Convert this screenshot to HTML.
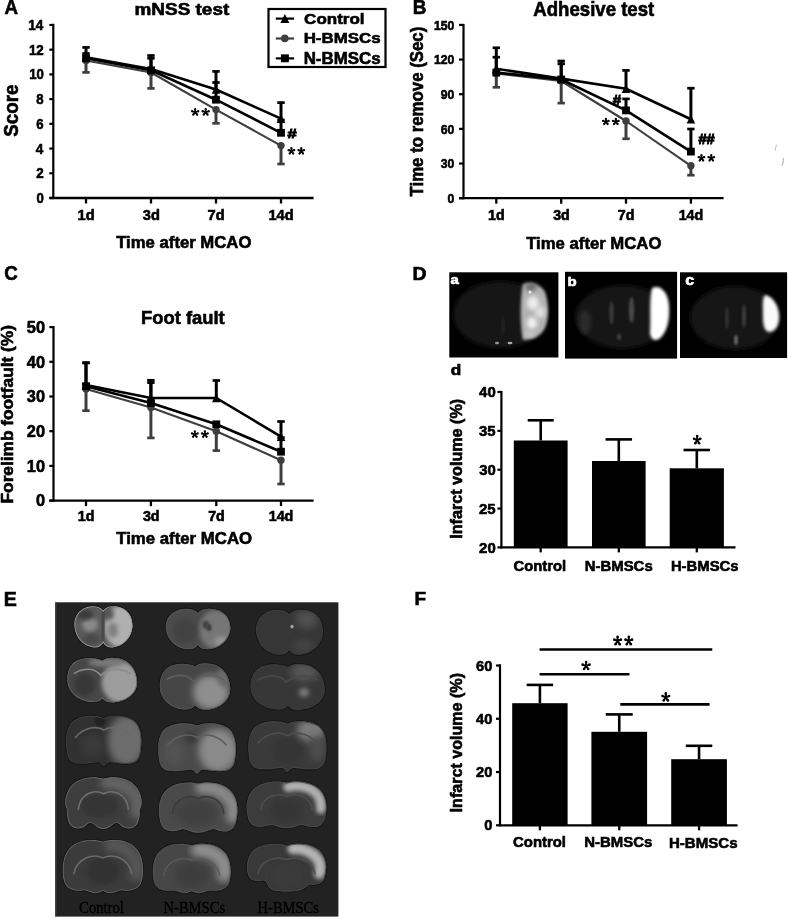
<!DOCTYPE html><html><head><meta charset="utf-8"><style>html,body{margin:0;padding:0;background:#fff;overflow:hidden}svg{display:block;filter:blur(0.3px)}</style></head><body>
<svg width="788" height="919" viewBox="0 0 788 919">
<defs>
<filter id="b06" x="-10%" y="-10%" width="120%" height="120%"><feGaussianBlur stdDeviation="0.6"/></filter>
<filter id="b15" x="-30%" y="-30%" width="160%" height="160%"><feGaussianBlur stdDeviation="1.6"/></filter>
<filter id="b1" x="-20%" y="-20%" width="140%" height="140%"><feGaussianBlur stdDeviation="1.2"/></filter>
<filter id="b2" x="-30%" y="-30%" width="160%" height="160%"><feGaussianBlur stdDeviation="2.2"/></filter>
<filter id="b3" x="-40%" y="-40%" width="180%" height="180%"><feGaussianBlur stdDeviation="3.5"/></filter>
<filter id="b5" x="-50%" y="-50%" width="200%" height="200%"><feGaussianBlur stdDeviation="5"/></filter>
</defs>
<rect width="788" height="919" fill="#fff"/>
<text x="4.48" y="13.70" font-size="20.22" fill="#000" font-weight="bold" font-family="&quot;Liberation Sans&quot;, sans-serif" textLength="13.53" lengthAdjust="spacingAndGlyphs" stroke="#000" stroke-width="0.6">A</text>
<text x="412.82" y="13.70" font-size="20.22" fill="#000" font-weight="bold" font-family="&quot;Liberation Sans&quot;, sans-serif" textLength="13.73" lengthAdjust="spacingAndGlyphs" stroke="#000" stroke-width="0.6">B</text>
<text x="4.25" y="280.10" font-size="20.21" fill="#000" font-weight="bold" font-family="&quot;Liberation Sans&quot;, sans-serif" textLength="13.56" lengthAdjust="spacingAndGlyphs" stroke="#000" stroke-width="0.6">C</text>
<text x="412.49" y="279.80" font-size="17.75" fill="#000" font-weight="bold" font-family="&quot;Liberation Sans&quot;, sans-serif" textLength="14.03" lengthAdjust="spacingAndGlyphs" stroke="#000" stroke-width="0.6">D</text>
<text x="3.67" y="605.90" font-size="19.93" fill="#000" font-weight="bold" font-family="&quot;Liberation Sans&quot;, sans-serif" textLength="13.10" lengthAdjust="spacingAndGlyphs" stroke="#000" stroke-width="0.6">E</text>
<text x="414.52" y="605.40" font-size="18.62" fill="#000" font-weight="bold" font-family="&quot;Liberation Sans&quot;, sans-serif" textLength="11.56" lengthAdjust="spacingAndGlyphs" stroke="#000" stroke-width="0.6">F</text>
<line x1="53.30" y1="23.80" x2="53.30" y2="199.10" stroke="#000" stroke-width="2.2" />
<line x1="49.30" y1="198.00" x2="313.60" y2="198.00" stroke="#000" stroke-width="2.3" />
<line x1="49.30" y1="198.00" x2="53.30" y2="198.00" stroke="#000" stroke-width="2.2" />
<text x="36.43" y="202.86" font-size="14.13" fill="#000" font-weight="bold" font-family="&quot;Liberation Sans&quot;, sans-serif" textLength="7.31" lengthAdjust="spacingAndGlyphs" stroke="#000" stroke-width="0.6">0</text>
<line x1="49.30" y1="173.28" x2="53.30" y2="173.28" stroke="#000" stroke-width="2.2" />
<text x="36.30" y="178.28" font-size="14.34" fill="#000" font-weight="bold" font-family="&quot;Liberation Sans&quot;, sans-serif" textLength="7.42" lengthAdjust="spacingAndGlyphs" stroke="#000" stroke-width="0.6">2</text>
<line x1="49.30" y1="148.56" x2="53.30" y2="148.56" stroke="#000" stroke-width="2.2" />
<text x="35.76" y="153.56" font-size="14.55" fill="#000" font-weight="bold" font-family="&quot;Liberation Sans&quot;, sans-serif" textLength="7.52" lengthAdjust="spacingAndGlyphs" stroke="#000" stroke-width="0.6">4</text>
<line x1="49.30" y1="123.84" x2="53.30" y2="123.84" stroke="#000" stroke-width="2.2" />
<text x="36.36" y="128.70" font-size="14.13" fill="#000" font-weight="bold" font-family="&quot;Liberation Sans&quot;, sans-serif" textLength="7.31" lengthAdjust="spacingAndGlyphs" stroke="#000" stroke-width="0.6">6</text>
<line x1="49.30" y1="99.12" x2="53.30" y2="99.12" stroke="#000" stroke-width="2.2" />
<text x="36.30" y="103.98" font-size="14.13" fill="#000" font-weight="bold" font-family="&quot;Liberation Sans&quot;, sans-serif" textLength="7.31" lengthAdjust="spacingAndGlyphs" stroke="#000" stroke-width="0.6">8</text>
<line x1="49.30" y1="74.40" x2="53.30" y2="74.40" stroke="#000" stroke-width="2.2" />
<text x="29.13" y="79.26" font-size="14.13" fill="#000" font-weight="bold" font-family="&quot;Liberation Sans&quot;, sans-serif" textLength="14.62" lengthAdjust="spacingAndGlyphs" stroke="#000" stroke-width="0.6">10</text>
<line x1="49.30" y1="49.68" x2="53.30" y2="49.68" stroke="#000" stroke-width="2.2" />
<text x="28.90" y="54.68" font-size="14.34" fill="#000" font-weight="bold" font-family="&quot;Liberation Sans&quot;, sans-serif" textLength="14.83" lengthAdjust="spacingAndGlyphs" stroke="#000" stroke-width="0.6">12</text>
<line x1="49.30" y1="24.96" x2="53.30" y2="24.96" stroke="#000" stroke-width="2.2" />
<text x="28.25" y="29.96" font-size="14.55" fill="#000" font-weight="bold" font-family="&quot;Liberation Sans&quot;, sans-serif" textLength="15.05" lengthAdjust="spacingAndGlyphs" stroke="#000" stroke-width="0.6">14</text>
<line x1="86.00" y1="198.00" x2="86.00" y2="203.50" stroke="#000" stroke-width="2.3" />
<text x="77.47" y="219.55" font-size="14.97" fill="#000" font-weight="bold" font-family="&quot;Liberation Sans&quot;, sans-serif" textLength="17.12" lengthAdjust="spacingAndGlyphs" stroke="#000" stroke-width="0.6">1d</text>
<line x1="151.00" y1="198.00" x2="151.00" y2="203.50" stroke="#000" stroke-width="2.3" />
<text x="142.80" y="219.51" font-size="14.92" fill="#000" font-weight="bold" font-family="&quot;Liberation Sans&quot;, sans-serif" textLength="17.06" lengthAdjust="spacingAndGlyphs" stroke="#000" stroke-width="0.6">3d</text>
<line x1="216.00" y1="198.00" x2="216.00" y2="203.50" stroke="#000" stroke-width="2.3" />
<text x="207.62" y="219.55" font-size="14.97" fill="#000" font-weight="bold" font-family="&quot;Liberation Sans&quot;, sans-serif" textLength="17.12" lengthAdjust="spacingAndGlyphs" stroke="#000" stroke-width="0.6">7d</text>
<line x1="281.00" y1="198.00" x2="281.00" y2="203.50" stroke="#000" stroke-width="2.3" />
<text x="268.39" y="219.55" font-size="14.97" fill="#000" font-weight="bold" font-family="&quot;Liberation Sans&quot;, sans-serif" textLength="25.27" lengthAdjust="spacingAndGlyphs" stroke="#000" stroke-width="0.6">14d</text>
<text x="116.23" y="247.74" font-size="16.46" fill="#000" font-weight="bold" font-family="&quot;Liberation Sans&quot;, sans-serif" textLength="135.17" lengthAdjust="spacingAndGlyphs" stroke="#000" stroke-width="0.6">Time after MCAO</text>
<text transform="translate(18.11,136.66) rotate(-90)" x="0" y="0" font-size="19.36" font-weight="bold" font-family="&quot;Liberation Sans&quot;, sans-serif" textLength="52.11" lengthAdjust="spacingAndGlyphs" stroke="#000" stroke-width="0.6">Score</text>
<text x="134.47" y="15.43" font-size="16.68" fill="#000" font-weight="bold" font-family="&quot;Liberation Sans&quot;, sans-serif" textLength="94.80" lengthAdjust="spacingAndGlyphs" stroke="#000" stroke-width="0.6">mNSS test</text>
<polyline points="86.00,60.50 151.00,72.50 216.00,109.60 281.00,145.60" fill="none" stroke="#3e3e3e" stroke-width="2.1" stroke-linejoin="round"/>
<line x1="86.00" y1="60.50" x2="86.00" y2="72.40" stroke="#3e3e3e" stroke-width="3" />
<line x1="82.30" y1="72.40" x2="89.70" y2="72.40" stroke="#3e3e3e" stroke-width="2.7" />
<line x1="151.00" y1="72.50" x2="151.00" y2="88.40" stroke="#3e3e3e" stroke-width="3" />
<line x1="147.30" y1="88.40" x2="154.70" y2="88.40" stroke="#3e3e3e" stroke-width="2.7" />
<line x1="216.00" y1="109.60" x2="216.00" y2="123.30" stroke="#3e3e3e" stroke-width="3" />
<line x1="212.30" y1="123.30" x2="219.70" y2="123.30" stroke="#3e3e3e" stroke-width="2.7" />
<line x1="281.00" y1="145.60" x2="281.00" y2="164.00" stroke="#3e3e3e" stroke-width="3" />
<line x1="277.30" y1="164.00" x2="284.70" y2="164.00" stroke="#3e3e3e" stroke-width="2.7" />
<circle cx="86.00" cy="60.50" r="3.7" fill="#3e3e3e"/>
<circle cx="151.00" cy="72.50" r="3.7" fill="#3e3e3e"/>
<circle cx="216.00" cy="109.60" r="3.7" fill="#3e3e3e"/>
<circle cx="281.00" cy="145.60" r="3.7" fill="#3e3e3e"/>
<polyline points="86.00,58.30 151.00,70.30 216.00,99.70 281.00,132.80" fill="none" stroke="#000" stroke-width="2.6" stroke-linejoin="round"/>
<line x1="86.00" y1="58.30" x2="86.00" y2="53.50" stroke="#000" stroke-width="3" />
<line x1="82.30" y1="53.50" x2="89.70" y2="53.50" stroke="#000" stroke-width="2.7" />
<line x1="151.00" y1="70.30" x2="151.00" y2="55.50" stroke="#000" stroke-width="3" />
<line x1="147.30" y1="55.50" x2="154.70" y2="55.50" stroke="#000" stroke-width="2.7" />
<line x1="216.00" y1="99.70" x2="216.00" y2="82.50" stroke="#000" stroke-width="3" />
<line x1="212.30" y1="82.50" x2="219.70" y2="82.50" stroke="#000" stroke-width="2.7" />
<line x1="281.00" y1="132.80" x2="281.00" y2="120.00" stroke="#000" stroke-width="3" />
<line x1="277.30" y1="120.00" x2="284.70" y2="120.00" stroke="#000" stroke-width="2.7" />
<rect x="82.10" y="54.40" width="7.80" height="7.80" fill="#000" />
<rect x="147.10" y="66.40" width="7.80" height="7.80" fill="#000" />
<rect x="212.10" y="95.80" width="7.80" height="7.80" fill="#000" />
<rect x="277.10" y="128.90" width="7.80" height="7.80" fill="#000" />
<polyline points="86.00,57.30 151.00,69.00 216.00,89.50 281.00,118.60" fill="none" stroke="#000" stroke-width="2.6" stroke-linejoin="round"/>
<line x1="86.00" y1="57.30" x2="86.00" y2="47.40" stroke="#000" stroke-width="3" />
<line x1="82.30" y1="47.40" x2="89.70" y2="47.40" stroke="#000" stroke-width="2.7" />
<line x1="151.00" y1="69.00" x2="151.00" y2="58.30" stroke="#000" stroke-width="3" />
<line x1="147.30" y1="58.30" x2="154.70" y2="58.30" stroke="#000" stroke-width="2.7" />
<line x1="216.00" y1="89.50" x2="216.00" y2="71.40" stroke="#000" stroke-width="3" />
<line x1="212.30" y1="71.40" x2="219.70" y2="71.40" stroke="#000" stroke-width="2.7" />
<line x1="281.00" y1="118.60" x2="281.00" y2="102.60" stroke="#000" stroke-width="3" />
<line x1="277.30" y1="102.60" x2="284.70" y2="102.60" stroke="#000" stroke-width="2.7" />
<polygon points="81.70,61.60 90.30,61.60 86.00,53.00" fill="#000"/>
<polygon points="146.70,73.30 155.30,73.30 151.00,64.70" fill="#000"/>
<polygon points="211.70,93.80 220.30,93.80 216.00,85.20" fill="#000"/>
<polygon points="276.70,122.90 285.30,122.90 281.00,114.30" fill="#000"/>
<g fill="#000"><path d="M195.15,112.19L195.15,109.15M195.15,112.19L198.25,111.25M195.15,112.19L197.07,114.65M195.15,112.19L193.23,114.65M195.15,112.19L192.05,111.25" stroke="#000" stroke-width="1.72" fill="none"/><circle cx="195.15" cy="109.15" r="1.15"/><circle cx="198.25" cy="111.25" r="1.15"/><circle cx="197.07" cy="114.65" r="1.15"/><circle cx="193.23" cy="114.65" r="1.15"/><circle cx="192.05" cy="111.25" r="1.15"/></g>
<g fill="#000"><path d="M205.65,112.19L205.65,109.15M205.65,112.19L208.75,111.25M205.65,112.19L207.57,114.65M205.65,112.19L203.73,114.65M205.65,112.19L202.55,111.25" stroke="#000" stroke-width="1.72" fill="none"/><circle cx="205.65" cy="109.15" r="1.15"/><circle cx="208.75" cy="111.25" r="1.15"/><circle cx="207.57" cy="114.65" r="1.15"/><circle cx="203.73" cy="114.65" r="1.15"/><circle cx="202.55" cy="111.25" r="1.15"/></g>
<text x="287.51" y="138.20" font-size="13.09" fill="#000" font-weight="bold" font-family="&quot;Liberation Sans&quot;, sans-serif" textLength="9.15" lengthAdjust="spacingAndGlyphs" stroke="#000" stroke-width="0.9">#</text>
<g fill="#000"><path d="M291.43,151.09L291.43,148.05M291.43,151.09L294.20,150.15M291.43,151.09L293.14,153.55M291.43,151.09L289.71,153.55M291.43,151.09L288.65,150.15" stroke="#000" stroke-width="1.72" fill="none"/><circle cx="291.43" cy="148.05" r="1.15"/><circle cx="294.20" cy="150.15" r="1.15"/><circle cx="293.14" cy="153.55" r="1.15"/><circle cx="289.71" cy="153.55" r="1.15"/><circle cx="288.65" cy="150.15" r="1.15"/></g>
<g fill="#000"><path d="M301.28,151.09L301.28,148.05M301.28,151.09L304.05,150.15M301.28,151.09L302.99,153.55M301.28,151.09L299.56,153.55M301.28,151.09L298.50,150.15" stroke="#000" stroke-width="1.72" fill="none"/><circle cx="301.28" cy="148.05" r="1.15"/><circle cx="304.05" cy="150.15" r="1.15"/><circle cx="302.99" cy="153.55" r="1.15"/><circle cx="299.56" cy="153.55" r="1.15"/><circle cx="298.50" cy="150.15" r="1.15"/></g>
<rect x="268.5" y="9" width="117" height="58" fill="#fff" stroke="#000" stroke-width="2.2"/>
<line x1="275.80" y1="18.60" x2="294.10" y2="18.60" stroke="#000" stroke-width="2.2" />
<polygon points="280.40,23.10 289.40,23.10 284.90,14.10" fill="#000"/>
<line x1="275.80" y1="38.50" x2="294.10" y2="38.50" stroke="#3e3e3e" stroke-width="2.2" />
<circle cx="284.80" cy="38.40" r="3.8" fill="#3e3e3e"/>
<line x1="275.80" y1="58.40" x2="294.10" y2="58.40" stroke="#000" stroke-width="2.2" />
<rect x="280.95" y="54.35" width="7.90" height="7.90" fill="#000" />
<text x="304.12" y="23.84" font-size="15.51" fill="#000" font-weight="bold" font-family="&quot;Liberation Sans&quot;, sans-serif" textLength="60.47" lengthAdjust="spacingAndGlyphs" stroke="#000" stroke-width="0.6">Control</text>
<text x="303.66" y="43.44" font-size="15.55" fill="#000" font-weight="bold" font-family="&quot;Liberation Sans&quot;, sans-serif" textLength="77.03" lengthAdjust="spacingAndGlyphs" stroke="#000" stroke-width="0.6">H-BMSCs</text>
<text x="303.66" y="63.54" font-size="15.83" fill="#000" font-weight="bold" font-family="&quot;Liberation Sans&quot;, sans-serif" textLength="77.03" lengthAdjust="spacingAndGlyphs" stroke="#000" stroke-width="0.6">N-BMSCs</text>
<line x1="463.50" y1="23.90" x2="463.50" y2="199.30" stroke="#000" stroke-width="2.2" />
<line x1="459.00" y1="198.20" x2="723.60" y2="198.20" stroke="#000" stroke-width="2.3" />
<line x1="459.00" y1="198.20" x2="463.50" y2="198.20" stroke="#000" stroke-width="2.2" />
<text x="447.51" y="202.86" font-size="13.57" fill="#000" font-weight="bold" font-family="&quot;Liberation Sans&quot;, sans-serif" textLength="6.79" lengthAdjust="spacingAndGlyphs" stroke="#000" stroke-width="0.6">0</text>
<line x1="459.00" y1="163.54" x2="463.50" y2="163.54" stroke="#000" stroke-width="2.2" />
<text x="440.78" y="168.17" font-size="13.52" fill="#000" font-weight="bold" font-family="&quot;Liberation Sans&quot;, sans-serif" textLength="13.54" lengthAdjust="spacingAndGlyphs" stroke="#000" stroke-width="0.6">30</text>
<line x1="459.00" y1="128.88" x2="463.50" y2="128.88" stroke="#000" stroke-width="2.2" />
<text x="440.73" y="133.55" font-size="13.57" fill="#000" font-weight="bold" font-family="&quot;Liberation Sans&quot;, sans-serif" textLength="13.58" lengthAdjust="spacingAndGlyphs" stroke="#000" stroke-width="0.6">60</text>
<line x1="459.00" y1="94.22" x2="463.50" y2="94.22" stroke="#000" stroke-width="2.2" />
<text x="440.73" y="98.89" font-size="13.57" fill="#000" font-weight="bold" font-family="&quot;Liberation Sans&quot;, sans-serif" textLength="13.58" lengthAdjust="spacingAndGlyphs" stroke="#000" stroke-width="0.6">90</text>
<line x1="459.00" y1="59.56" x2="463.50" y2="59.56" stroke="#000" stroke-width="2.2" />
<text x="433.92" y="64.23" font-size="13.57" fill="#000" font-weight="bold" font-family="&quot;Liberation Sans&quot;, sans-serif" textLength="20.38" lengthAdjust="spacingAndGlyphs" stroke="#000" stroke-width="0.6">120</text>
<line x1="459.00" y1="24.91" x2="463.50" y2="24.91" stroke="#000" stroke-width="2.2" />
<text x="433.92" y="29.57" font-size="13.57" fill="#000" font-weight="bold" font-family="&quot;Liberation Sans&quot;, sans-serif" textLength="20.38" lengthAdjust="spacingAndGlyphs" stroke="#000" stroke-width="0.6">150</text>
<line x1="496.30" y1="198.20" x2="496.30" y2="203.70" stroke="#000" stroke-width="2.3" />
<text x="488.01" y="219.75" font-size="14.56" fill="#000" font-weight="bold" font-family="&quot;Liberation Sans&quot;, sans-serif" textLength="16.65" lengthAdjust="spacingAndGlyphs" stroke="#000" stroke-width="0.6">1d</text>
<line x1="561.20" y1="198.20" x2="561.20" y2="203.70" stroke="#000" stroke-width="2.3" />
<text x="553.22" y="219.72" font-size="14.51" fill="#000" font-weight="bold" font-family="&quot;Liberation Sans&quot;, sans-serif" textLength="16.59" lengthAdjust="spacingAndGlyphs" stroke="#000" stroke-width="0.6">3d</text>
<line x1="626.00" y1="198.20" x2="626.00" y2="203.70" stroke="#000" stroke-width="2.3" />
<text x="617.85" y="219.75" font-size="14.56" fill="#000" font-weight="bold" font-family="&quot;Liberation Sans&quot;, sans-serif" textLength="16.65" lengthAdjust="spacingAndGlyphs" stroke="#000" stroke-width="0.6">7d</text>
<line x1="690.90" y1="198.20" x2="690.90" y2="203.70" stroke="#000" stroke-width="2.3" />
<text x="678.63" y="219.75" font-size="14.56" fill="#000" font-weight="bold" font-family="&quot;Liberation Sans&quot;, sans-serif" textLength="24.58" lengthAdjust="spacingAndGlyphs" stroke="#000" stroke-width="0.6">14d</text>
<text x="526.23" y="249.13" font-size="16.87" fill="#000" font-weight="bold" font-family="&quot;Liberation Sans&quot;, sans-serif" textLength="135.17" lengthAdjust="spacingAndGlyphs" stroke="#000" stroke-width="0.6">Time after MCAO</text>
<text transform="translate(422.97,196.47) rotate(-90)" x="0" y="0" font-size="17.48" font-weight="bold" font-family="&quot;Liberation Sans&quot;, sans-serif" textLength="169.73" lengthAdjust="spacingAndGlyphs" stroke="#000" stroke-width="0.6">Time to remove (Sec)</text>
<text x="533.34" y="16.41" font-size="19.32" fill="#000" font-weight="bold" font-family="&quot;Liberation Sans&quot;, sans-serif" textLength="120.90" lengthAdjust="spacingAndGlyphs" stroke="#000" stroke-width="0.6">Adhesive test</text>
<polyline points="496.30,73.50 561.20,81.00 626.00,121.00 690.90,165.80" fill="none" stroke="#3e3e3e" stroke-width="2.1" stroke-linejoin="round"/>
<line x1="496.30" y1="73.50" x2="496.30" y2="87.30" stroke="#3e3e3e" stroke-width="3" />
<line x1="492.60" y1="87.30" x2="500.00" y2="87.30" stroke="#3e3e3e" stroke-width="2.7" />
<line x1="561.20" y1="81.00" x2="561.20" y2="103.10" stroke="#3e3e3e" stroke-width="3" />
<line x1="557.50" y1="103.10" x2="564.90" y2="103.10" stroke="#3e3e3e" stroke-width="2.7" />
<line x1="626.00" y1="121.00" x2="626.00" y2="138.80" stroke="#3e3e3e" stroke-width="3" />
<line x1="622.30" y1="138.80" x2="629.70" y2="138.80" stroke="#3e3e3e" stroke-width="2.7" />
<line x1="690.90" y1="165.80" x2="690.90" y2="175.20" stroke="#3e3e3e" stroke-width="3" />
<line x1="687.20" y1="175.20" x2="694.60" y2="175.20" stroke="#3e3e3e" stroke-width="2.7" />
<circle cx="496.30" cy="73.50" r="3.7" fill="#3e3e3e"/>
<circle cx="561.20" cy="81.00" r="3.7" fill="#3e3e3e"/>
<circle cx="626.00" cy="121.00" r="3.7" fill="#3e3e3e"/>
<circle cx="690.90" cy="165.80" r="3.7" fill="#3e3e3e"/>
<polyline points="496.30,72.50 561.20,79.50 626.00,110.40 690.90,151.60" fill="none" stroke="#000" stroke-width="2.6" stroke-linejoin="round"/>
<line x1="496.30" y1="72.50" x2="496.30" y2="57.20" stroke="#000" stroke-width="3" />
<line x1="492.60" y1="57.20" x2="500.00" y2="57.20" stroke="#000" stroke-width="2.7" />
<line x1="561.20" y1="79.50" x2="561.20" y2="63.80" stroke="#000" stroke-width="3" />
<line x1="557.50" y1="63.80" x2="564.90" y2="63.80" stroke="#000" stroke-width="2.7" />
<line x1="626.00" y1="110.40" x2="626.00" y2="98.90" stroke="#000" stroke-width="3" />
<line x1="622.30" y1="98.90" x2="629.70" y2="98.90" stroke="#000" stroke-width="2.7" />
<line x1="690.90" y1="151.60" x2="690.90" y2="129.00" stroke="#000" stroke-width="3" />
<line x1="687.20" y1="129.00" x2="694.60" y2="129.00" stroke="#000" stroke-width="2.7" />
<rect x="492.40" y="68.60" width="7.80" height="7.80" fill="#000" />
<rect x="557.30" y="75.60" width="7.80" height="7.80" fill="#000" />
<rect x="622.10" y="106.50" width="7.80" height="7.80" fill="#000" />
<rect x="687.00" y="147.70" width="7.80" height="7.80" fill="#000" />
<polyline points="496.30,68.80 561.20,78.60 626.00,88.80 690.90,119.20" fill="none" stroke="#000" stroke-width="2.6" stroke-linejoin="round"/>
<line x1="496.30" y1="68.80" x2="496.30" y2="47.80" stroke="#000" stroke-width="3" />
<line x1="492.60" y1="47.80" x2="500.00" y2="47.80" stroke="#000" stroke-width="2.7" />
<line x1="561.20" y1="78.60" x2="561.20" y2="61.00" stroke="#000" stroke-width="3" />
<line x1="557.50" y1="61.00" x2="564.90" y2="61.00" stroke="#000" stroke-width="2.7" />
<line x1="626.00" y1="88.80" x2="626.00" y2="70.40" stroke="#000" stroke-width="3" />
<line x1="622.30" y1="70.40" x2="629.70" y2="70.40" stroke="#000" stroke-width="2.7" />
<line x1="690.90" y1="119.20" x2="690.90" y2="88.20" stroke="#000" stroke-width="3" />
<line x1="687.20" y1="88.20" x2="694.60" y2="88.20" stroke="#000" stroke-width="2.7" />
<polygon points="492.00,73.10 500.60,73.10 496.30,64.50" fill="#000"/>
<polygon points="556.90,82.90 565.50,82.90 561.20,74.30" fill="#000"/>
<polygon points="621.70,93.10 630.30,93.10 626.00,84.50" fill="#000"/>
<polygon points="686.60,123.50 695.20,123.50 690.90,114.90" fill="#000"/>
<text x="612.74" y="105.00" font-size="14.41" fill="#000" font-weight="bold" font-family="&quot;Liberation Sans&quot;, sans-serif" textLength="8.41" lengthAdjust="spacingAndGlyphs" stroke="#000" stroke-width="0.9">#</text>
<g fill="#000"><path d="M605.88,121.76L605.88,119.00M605.88,121.76L608.70,120.91M605.88,121.76L607.62,124.00M605.88,121.76L604.13,124.00M605.88,121.76L603.05,120.91" stroke="#000" stroke-width="1.72" fill="none"/><circle cx="605.88" cy="119.00" r="1.15"/><circle cx="608.70" cy="120.91" r="1.15"/><circle cx="607.62" cy="124.00" r="1.15"/><circle cx="604.13" cy="124.00" r="1.15"/><circle cx="603.05" cy="120.91" r="1.15"/></g>
<g fill="#000"><path d="M615.82,121.76L615.82,119.00M615.82,121.76L618.65,120.91M615.82,121.76L617.57,124.00M615.82,121.76L614.08,124.00M615.82,121.76L613.00,120.91" stroke="#000" stroke-width="1.72" fill="none"/><circle cx="615.82" cy="119.00" r="1.15"/><circle cx="618.65" cy="120.91" r="1.15"/><circle cx="617.57" cy="124.00" r="1.15"/><circle cx="614.08" cy="124.00" r="1.15"/><circle cx="613.00" cy="120.91" r="1.15"/></g>
<text x="698.45" y="143.80" font-size="13.82" fill="#000" font-weight="bold" font-family="&quot;Liberation Sans&quot;, sans-serif" textLength="16.21" lengthAdjust="spacingAndGlyphs" stroke="#000" stroke-width="0.9">##</text>
<g fill="#000"><path d="M701.42,158.09L701.42,155.05M701.42,158.09L704.20,157.15M701.42,158.09L703.14,160.55M701.42,158.09L699.71,160.55M701.42,158.09L698.65,157.15" stroke="#000" stroke-width="1.72" fill="none"/><circle cx="701.42" cy="155.05" r="1.15"/><circle cx="704.20" cy="157.15" r="1.15"/><circle cx="703.14" cy="160.55" r="1.15"/><circle cx="699.71" cy="160.55" r="1.15"/><circle cx="698.65" cy="157.15" r="1.15"/></g>
<g fill="#000"><path d="M711.28,158.09L711.28,155.05M711.28,158.09L714.05,157.15M711.28,158.09L712.99,160.55M711.28,158.09L709.56,160.55M711.28,158.09L708.50,157.15" stroke="#000" stroke-width="1.72" fill="none"/><circle cx="711.28" cy="155.05" r="1.15"/><circle cx="714.05" cy="157.15" r="1.15"/><circle cx="712.99" cy="160.55" r="1.15"/><circle cx="709.56" cy="160.55" r="1.15"/><circle cx="708.50" cy="157.15" r="1.15"/></g>
<line x1="53.50" y1="326.00" x2="53.50" y2="501.70" stroke="#000" stroke-width="2.2" />
<line x1="49.30" y1="500.60" x2="313.60" y2="500.60" stroke="#000" stroke-width="2.3" />
<line x1="49.30" y1="500.60" x2="53.50" y2="500.60" stroke="#000" stroke-width="2.2" />
<text x="35.88" y="506.33" font-size="16.68" fill="#000" font-weight="bold" font-family="&quot;Liberation Sans&quot;, sans-serif" textLength="9.09" lengthAdjust="spacingAndGlyphs" stroke="#000" stroke-width="0.6">0</text>
<line x1="49.30" y1="465.90" x2="53.50" y2="465.90" stroke="#000" stroke-width="2.2" />
<text x="26.81" y="471.63" font-size="16.68" fill="#000" font-weight="bold" font-family="&quot;Liberation Sans&quot;, sans-serif" textLength="18.18" lengthAdjust="spacingAndGlyphs" stroke="#000" stroke-width="0.6">10</text>
<line x1="49.30" y1="431.20" x2="53.50" y2="431.20" stroke="#000" stroke-width="2.2" />
<text x="26.81" y="436.93" font-size="16.68" fill="#000" font-weight="bold" font-family="&quot;Liberation Sans&quot;, sans-serif" textLength="18.18" lengthAdjust="spacingAndGlyphs" stroke="#000" stroke-width="0.6">20</text>
<line x1="49.30" y1="396.50" x2="53.50" y2="396.50" stroke="#000" stroke-width="2.2" />
<text x="26.87" y="402.19" font-size="16.62" fill="#000" font-weight="bold" font-family="&quot;Liberation Sans&quot;, sans-serif" textLength="18.12" lengthAdjust="spacingAndGlyphs" stroke="#000" stroke-width="0.6">30</text>
<line x1="49.30" y1="361.80" x2="53.50" y2="361.80" stroke="#000" stroke-width="2.2" />
<text x="26.81" y="367.53" font-size="16.68" fill="#000" font-weight="bold" font-family="&quot;Liberation Sans&quot;, sans-serif" textLength="18.18" lengthAdjust="spacingAndGlyphs" stroke="#000" stroke-width="0.6">40</text>
<line x1="49.30" y1="327.10" x2="53.50" y2="327.10" stroke="#000" stroke-width="2.2" />
<text x="26.81" y="332.83" font-size="16.68" fill="#000" font-weight="bold" font-family="&quot;Liberation Sans&quot;, sans-serif" textLength="18.18" lengthAdjust="spacingAndGlyphs" stroke="#000" stroke-width="0.6">50</text>
<line x1="86.00" y1="500.60" x2="86.00" y2="506.10" stroke="#000" stroke-width="2.3" />
<text x="77.70" y="521.46" font-size="14.29" fill="#000" font-weight="bold" font-family="&quot;Liberation Sans&quot;, sans-serif" textLength="16.67" lengthAdjust="spacingAndGlyphs" stroke="#000" stroke-width="0.6">1d</text>
<line x1="150.90" y1="500.60" x2="150.90" y2="506.10" stroke="#000" stroke-width="2.3" />
<text x="142.91" y="521.42" font-size="14.24" fill="#000" font-weight="bold" font-family="&quot;Liberation Sans&quot;, sans-serif" textLength="16.62" lengthAdjust="spacingAndGlyphs" stroke="#000" stroke-width="0.6">3d</text>
<line x1="216.30" y1="500.60" x2="216.30" y2="506.10" stroke="#000" stroke-width="2.3" />
<text x="208.14" y="521.46" font-size="14.29" fill="#000" font-weight="bold" font-family="&quot;Liberation Sans&quot;, sans-serif" textLength="16.67" lengthAdjust="spacingAndGlyphs" stroke="#000" stroke-width="0.6">7d</text>
<line x1="281.00" y1="500.60" x2="281.00" y2="506.10" stroke="#000" stroke-width="2.3" />
<text x="268.71" y="521.46" font-size="14.29" fill="#000" font-weight="bold" font-family="&quot;Liberation Sans&quot;, sans-serif" textLength="24.62" lengthAdjust="spacingAndGlyphs" stroke="#000" stroke-width="0.6">14d</text>
<text x="116.23" y="543.83" font-size="16.87" fill="#000" font-weight="bold" font-family="&quot;Liberation Sans&quot;, sans-serif" textLength="135.87" lengthAdjust="spacingAndGlyphs" stroke="#000" stroke-width="0.6">Time after MCAO</text>
<text transform="translate(13.33,503.47) rotate(-90)" x="0" y="0" font-size="16.73" font-weight="bold" font-family="&quot;Liberation Sans&quot;, sans-serif" textLength="178.43" lengthAdjust="spacingAndGlyphs" stroke="#000" stroke-width="0.6">Forelimb footfault (%)</text>
<text x="140.96" y="323.91" font-size="18.64" fill="#000" font-weight="bold" font-family="&quot;Liberation Sans&quot;, sans-serif" textLength="83.76" lengthAdjust="spacingAndGlyphs" stroke="#000" stroke-width="0.6">Foot fault</text>
<polyline points="86.00,389.00 150.90,407.50 216.30,431.20 281.00,460.30" fill="none" stroke="#3e3e3e" stroke-width="2.1" stroke-linejoin="round"/>
<line x1="86.00" y1="389.00" x2="86.00" y2="410.70" stroke="#3e3e3e" stroke-width="3" />
<line x1="82.30" y1="410.70" x2="89.70" y2="410.70" stroke="#3e3e3e" stroke-width="2.7" />
<line x1="150.90" y1="407.50" x2="150.90" y2="437.90" stroke="#3e3e3e" stroke-width="3" />
<line x1="147.20" y1="437.90" x2="154.60" y2="437.90" stroke="#3e3e3e" stroke-width="2.7" />
<line x1="216.30" y1="431.20" x2="216.30" y2="450.60" stroke="#3e3e3e" stroke-width="3" />
<line x1="212.60" y1="450.60" x2="220.00" y2="450.60" stroke="#3e3e3e" stroke-width="2.7" />
<line x1="281.00" y1="460.30" x2="281.00" y2="484.00" stroke="#3e3e3e" stroke-width="3" />
<line x1="277.30" y1="484.00" x2="284.70" y2="484.00" stroke="#3e3e3e" stroke-width="2.7" />
<circle cx="86.00" cy="389.00" r="3.7" fill="#3e3e3e"/>
<circle cx="150.90" cy="407.50" r="3.7" fill="#3e3e3e"/>
<circle cx="216.30" cy="431.20" r="3.7" fill="#3e3e3e"/>
<circle cx="281.00" cy="460.30" r="3.7" fill="#3e3e3e"/>
<polyline points="86.00,386.20 150.90,403.00 216.30,424.30 281.00,451.70" fill="none" stroke="#000" stroke-width="2.6" stroke-linejoin="round"/>
<line x1="86.00" y1="386.20" x2="86.00" y2="363.00" stroke="#000" stroke-width="3" />
<line x1="82.30" y1="363.00" x2="89.70" y2="363.00" stroke="#000" stroke-width="2.7" />
<line x1="150.90" y1="403.00" x2="150.90" y2="382.60" stroke="#000" stroke-width="3" />
<line x1="147.20" y1="382.60" x2="154.60" y2="382.60" stroke="#000" stroke-width="2.7" />
<line x1="281.00" y1="451.70" x2="281.00" y2="437.60" stroke="#000" stroke-width="3" />
<line x1="277.30" y1="437.60" x2="284.70" y2="437.60" stroke="#000" stroke-width="2.7" />
<rect x="82.10" y="382.30" width="7.80" height="7.80" fill="#000" />
<rect x="147.00" y="399.10" width="7.80" height="7.80" fill="#000" />
<rect x="212.40" y="420.40" width="7.80" height="7.80" fill="#000" />
<rect x="277.10" y="447.80" width="7.80" height="7.80" fill="#000" />
<polyline points="86.00,385.00 150.90,398.00 216.30,398.00 281.00,436.60" fill="none" stroke="#000" stroke-width="2.6" stroke-linejoin="round"/>
<line x1="86.00" y1="385.00" x2="86.00" y2="362.60" stroke="#000" stroke-width="3" />
<line x1="82.30" y1="362.60" x2="89.70" y2="362.60" stroke="#000" stroke-width="2.7" />
<line x1="150.90" y1="398.00" x2="150.90" y2="380.30" stroke="#000" stroke-width="3" />
<line x1="147.20" y1="380.30" x2="154.60" y2="380.30" stroke="#000" stroke-width="2.7" />
<line x1="216.30" y1="398.00" x2="216.30" y2="380.50" stroke="#000" stroke-width="3" />
<line x1="212.60" y1="380.50" x2="220.00" y2="380.50" stroke="#000" stroke-width="2.7" />
<line x1="281.00" y1="436.60" x2="281.00" y2="421.50" stroke="#000" stroke-width="3" />
<line x1="277.30" y1="421.50" x2="284.70" y2="421.50" stroke="#000" stroke-width="2.7" />
<polygon points="81.70,389.30 90.30,389.30 86.00,380.70" fill="#000"/>
<polygon points="146.60,402.30 155.20,402.30 150.90,393.70" fill="#000"/>
<polygon points="212.00,402.30 220.60,402.30 216.30,393.70" fill="#000"/>
<polygon points="276.70,440.90 285.30,440.90 281.00,432.30" fill="#000"/>
<g fill="#000"><path d="M194.83,434.39L194.83,431.35M194.83,434.39L197.70,433.45M194.83,434.39L196.60,436.85M194.83,434.39L193.05,436.85M194.83,434.39L191.95,433.45" stroke="#000" stroke-width="1.72" fill="none"/><circle cx="194.83" cy="431.35" r="1.15"/><circle cx="197.70" cy="433.45" r="1.15"/><circle cx="196.60" cy="436.85" r="1.15"/><circle cx="193.05" cy="436.85" r="1.15"/><circle cx="191.95" cy="433.45" r="1.15"/></g>
<g fill="#000"><path d="M204.88,434.39L204.88,431.35M204.88,434.39L207.75,433.45M204.88,434.39L206.65,436.85M204.88,434.39L203.10,436.85M204.88,434.39L202.00,433.45" stroke="#000" stroke-width="1.72" fill="none"/><circle cx="204.88" cy="431.35" r="1.15"/><circle cx="207.75" cy="433.45" r="1.15"/><circle cx="206.65" cy="436.85" r="1.15"/><circle cx="203.10" cy="436.85" r="1.15"/><circle cx="202.00" cy="433.45" r="1.15"/></g>
<rect x="449.30" y="272.30" width="109.10" height="85.20" fill="#000" />
<ellipse cx="500.5" cy="314.5" rx="47.5" ry="33.5" fill="#141414" filter="url(#b2)"/>
<path d="M523,284 C532,281 541,285 545,292 C549,303 549,318 545,328 C541,336 533,340 523,340 C520,326 520,298 523,284 Z" fill="#b2b2b2" filter="url(#b15)"/>
<ellipse cx="531" cy="287" rx="6" ry="4" fill="#6a6a6a" filter="url(#b2)"/><ellipse cx="533" cy="303" rx="6" ry="7" fill="#ececec" filter="url(#b2)"/><ellipse cx="540" cy="312" rx="5" ry="6" fill="#e0e0e0" filter="url(#b2)"/><ellipse cx="532" cy="323" rx="5" ry="6" fill="#f2f2f2" filter="url(#b2)"/><ellipse cx="530" cy="334" rx="5" ry="3" fill="#c8c8c8" filter="url(#b2)"/><ellipse cx="530" cy="292" rx="1.5" ry="1.5" fill="#eee" filter="url(#b06)"/><ellipse cx="497" cy="343" rx="2" ry="1.3" fill="#999" filter="url(#b06)"/><ellipse cx="510" cy="343" rx="2.5" ry="1.3" fill="#aaa" filter="url(#b06)"/><ellipse cx="503" cy="325" rx="1" ry="10" fill="#2a2a2a" filter="url(#b1)"/>
<rect x="565.00" y="271.80" width="112.30" height="86.80" fill="#000" />
<ellipse cx="622.0" cy="316.8" rx="46.8" ry="31.9" fill="#141414" filter="url(#b2)"/>
<path d="M652,288 C660,284 668,292 669,305 C670,320 667,333 659,339 C654,342 650,338 650,332 C651,320 649,300 652,288 Z" fill="#fff" filter="url(#b15)"/>
<ellipse cx="611.5" cy="313" rx="2.2" ry="12" fill="#3a3a3a" filter="url(#b1)"/><ellipse cx="631.5" cy="310" rx="2.6" ry="13" fill="#484848" filter="url(#b1)"/><ellipse cx="585" cy="322" rx="6" ry="12" fill="#2a2a2a" filter="url(#b2)"/><ellipse cx="619" cy="337" rx="2" ry="3" fill="#444" filter="url(#b1)"/>
<rect x="680.00" y="272.30" width="107.10" height="85.70" fill="#000" />
<ellipse cx="734.9" cy="317.9" rx="44.9" ry="31.8" fill="#141414" filter="url(#b2)"/>
<path d="M765,295 C772,296 778,304 779,314 C780,324 776,331 770,332 C765,332 763,326 763,318 C763,308 762,298 765,295 Z" fill="#fafafa" filter="url(#b15)"/>
<ellipse cx="727" cy="318" rx="1.8" ry="11" fill="#333" filter="url(#b1)"/><ellipse cx="744" cy="316" rx="2" ry="12" fill="#3e3e3e" filter="url(#b1)"/><ellipse cx="736" cy="340" rx="2" ry="5" fill="#666" filter="url(#b1)"/>
<rect x="677.3" y="271" width="2.7" height="89" fill="#fff"/>
<text x="450.55" y="284.26" font-size="13.52" fill="#fff" font-weight="bold" font-family="&quot;Liberation Sans&quot;, sans-serif" textLength="8.36" lengthAdjust="spacingAndGlyphs" stroke="#fff" stroke-width="0.6">a</text>
<text x="567.42" y="286.17" font-size="13.47" fill="#fff" font-weight="bold" font-family="&quot;Liberation Sans&quot;, sans-serif" textLength="9.19" lengthAdjust="spacingAndGlyphs" stroke="#fff" stroke-width="0.6">b</text>
<text x="685.16" y="284.76" font-size="13.88" fill="#fff" font-weight="bold" font-family="&quot;Liberation Sans&quot;, sans-serif" textLength="8.90" lengthAdjust="spacingAndGlyphs" stroke="#fff" stroke-width="0.6">c</text>
<text x="450.71" y="375.45" font-size="14.56" fill="#000" font-weight="bold" font-family="&quot;Liberation Sans&quot;, sans-serif" textLength="10.52" lengthAdjust="spacingAndGlyphs" stroke="#000" stroke-width="0.6">d</text>
<line x1="501.40" y1="390.90" x2="501.40" y2="548.50" stroke="#000" stroke-width="2.2" />
<line x1="501.40" y1="547.40" x2="735.50" y2="547.40" stroke="#000" stroke-width="2.3" />
<line x1="497.40" y1="547.40" x2="501.40" y2="547.40" stroke="#000" stroke-width="2.2" />
<text x="479.11" y="552.70" font-size="15.41" fill="#000" font-weight="bold" font-family="&quot;Liberation Sans&quot;, sans-serif" textLength="16.62" lengthAdjust="spacingAndGlyphs" stroke="#000" stroke-width="0.6">20</text>
<line x1="497.40" y1="508.55" x2="501.40" y2="508.55" stroke="#000" stroke-width="2.2" />
<text x="478.92" y="513.85" font-size="15.41" fill="#000" font-weight="bold" font-family="&quot;Liberation Sans&quot;, sans-serif" textLength="16.62" lengthAdjust="spacingAndGlyphs" stroke="#000" stroke-width="0.6">25</text>
<line x1="497.40" y1="469.70" x2="501.40" y2="469.70" stroke="#000" stroke-width="2.2" />
<text x="479.17" y="474.96" font-size="15.35" fill="#000" font-weight="bold" font-family="&quot;Liberation Sans&quot;, sans-serif" textLength="16.56" lengthAdjust="spacingAndGlyphs" stroke="#000" stroke-width="0.6">30</text>
<line x1="497.40" y1="430.85" x2="501.40" y2="430.85" stroke="#000" stroke-width="2.2" />
<text x="478.98" y="436.11" font-size="15.35" fill="#000" font-weight="bold" font-family="&quot;Liberation Sans&quot;, sans-serif" textLength="16.56" lengthAdjust="spacingAndGlyphs" stroke="#000" stroke-width="0.6">35</text>
<line x1="497.40" y1="392.00" x2="501.40" y2="392.00" stroke="#000" stroke-width="2.2" />
<text x="479.11" y="397.30" font-size="15.41" fill="#000" font-weight="bold" font-family="&quot;Liberation Sans&quot;, sans-serif" textLength="16.62" lengthAdjust="spacingAndGlyphs" stroke="#000" stroke-width="0.6">40</text>
<line x1="540.70" y1="440.50" x2="540.70" y2="420.30" stroke="#000" stroke-width="2.6" />
<line x1="527.70" y1="420.30" x2="553.70" y2="420.30" stroke="#000" stroke-width="2.6" />
<rect x="513.80" y="440.50" width="53.80" height="106.90" fill="#000" />
<line x1="540.70" y1="547.40" x2="540.70" y2="552.40" stroke="#000" stroke-width="2.3" />
<text x="513.51" y="570.75" font-size="14.56" fill="#000" font-weight="bold" font-family="&quot;Liberation Sans&quot;, sans-serif" textLength="52.52" lengthAdjust="spacingAndGlyphs" stroke="#000" stroke-width="0.6">Control</text>
<line x1="618.80" y1="461.00" x2="618.80" y2="439.40" stroke="#000" stroke-width="2.6" />
<line x1="605.55" y1="439.40" x2="632.05" y2="439.40" stroke="#000" stroke-width="2.6" />
<rect x="592.00" y="461.00" width="53.60" height="86.40" fill="#000" />
<line x1="618.80" y1="547.40" x2="618.80" y2="552.40" stroke="#000" stroke-width="2.3" />
<text x="584.69" y="570.75" font-size="15.12" fill="#000" font-weight="bold" font-family="&quot;Liberation Sans&quot;, sans-serif" textLength="68.02" lengthAdjust="spacingAndGlyphs" stroke="#000" stroke-width="0.6">N-BMSCs</text>
<line x1="696.80" y1="468.30" x2="696.80" y2="450.00" stroke="#000" stroke-width="2.6" />
<line x1="683.55" y1="450.00" x2="710.05" y2="450.00" stroke="#000" stroke-width="2.6" />
<rect x="669.70" y="468.30" width="54.20" height="79.10" fill="#000" />
<line x1="696.80" y1="547.40" x2="696.80" y2="552.40" stroke="#000" stroke-width="2.3" />
<text x="670.90" y="570.95" font-size="15.12" fill="#000" font-weight="bold" font-family="&quot;Liberation Sans&quot;, sans-serif" textLength="67.71" lengthAdjust="spacingAndGlyphs" stroke="#000" stroke-width="0.6">H-BMSCs</text>
<text transform="translate(461.62,538.79) rotate(-90)" x="0" y="0" font-size="16.30" font-weight="bold" font-family="&quot;Liberation Sans&quot;, sans-serif" textLength="140.01" lengthAdjust="spacingAndGlyphs" stroke="#000" stroke-width="0.6">Infarct volume (%)</text>
<g fill="#000"><path d="M697.20,440.08L697.20,436.10M697.20,440.08L700.30,438.85M697.20,440.08L699.12,443.30M697.20,440.08L695.28,443.30M697.20,440.08L694.10,438.85" stroke="#000" stroke-width="1.95" fill="none"/><circle cx="697.20" cy="436.10" r="1.30"/><circle cx="700.30" cy="438.85" r="1.30"/><circle cx="699.12" cy="443.30" r="1.30"/><circle cx="695.28" cy="443.30" r="1.30"/><circle cx="694.10" cy="438.85" r="1.30"/></g>
<rect x="55.30" y="602.30" width="283.10" height="314.30" fill="#222222" />
<rect x="55.3" y="602.3" width="1.4" height="314.3" fill="#383838"/>
<clipPath id="cp0"><path d="M 103.20 610.58 C 99.62 605.92 92.47 605.50 86.51 607.19 C 76.98 610.58 73.40 619.04 74.59 627.50 C 75.78 637.65 82.94 646.11 93.66 647.38 C 98.43 647.80 101.41 646.11 103.20 642.72 C 104.99 646.11 107.97 647.80 112.74 647.38 C 123.46 646.11 131.21 637.65 132.40 627.50 C 133.00 618.19 128.83 609.73 119.89 607.19 C 112.74 605.08 106.18 606.35 103.20 610.58 Z"/></clipPath>
<path d="M 103.20 610.58 C 99.62 605.92 92.47 605.50 86.51 607.19 C 76.98 610.58 73.40 619.04 74.59 627.50 C 75.78 637.65 82.94 646.11 93.66 647.38 C 98.43 647.80 101.41 646.11 103.20 642.72 C 104.99 646.11 107.97 647.80 112.74 647.38 C 123.46 646.11 131.21 637.65 132.40 627.50 C 133.00 618.19 128.83 609.73 119.89 607.19 C 112.74 605.08 106.18 606.35 103.20 610.58 Z" fill="none" stroke="#161616" stroke-width="2" filter="url(#b06)"/>
<g clip-path="url(#cp0)">
<path d="M 103.20 610.58 C 99.62 605.92 92.47 605.50 86.51 607.19 C 76.98 610.58 73.40 619.04 74.59 627.50 C 75.78 637.65 82.94 646.11 93.66 647.38 C 98.43 647.80 101.41 646.11 103.20 642.72 C 104.99 646.11 107.97 647.80 112.74 647.38 C 123.46 646.11 131.21 637.65 132.40 627.50 C 133.00 618.19 128.83 609.73 119.89 607.19 C 112.74 605.08 106.18 606.35 103.20 610.58 Z" fill="#5a5a5a"/>
<ellipse cx="119.89" cy="626.65" rx="15.50" ry="21.15" fill="#b0b0b0" filter="url(#b2)"/>
<ellipse cx="112.74" cy="630.03" rx="5.36" ry="7.61" fill="#808080" filter="url(#b2)"/>
<ellipse cx="107.97" cy="613.96" rx="5.96" ry="5.92" fill="#555" filter="url(#b2)"/>
<ellipse cx="90.09" cy="624.53" rx="7.75" ry="7.61" fill="#8a8a8a" filter="url(#b2)"/>
<ellipse cx="85.32" cy="614.81" rx="8.34" ry="5.08" fill="#3a3a3a" filter="url(#b2)"/>
<ellipse cx="91.28" cy="639.34" rx="8.34" ry="5.92" fill="#4a4a4a" filter="url(#b2)"/>
<ellipse cx="103.20" cy="626.65" rx="1.07" ry="17.77" fill="#333333" filter="url(#b1)"/>
<path d="M 103.20 610.58 C 99.62 605.92 92.47 605.50 86.51 607.19 C 76.98 610.58 73.40 619.04 74.59 627.50 C 75.78 637.65 82.94 646.11 93.66 647.38 C 98.43 647.80 101.41 646.11 103.20 642.72 C 104.99 646.11 107.97 647.80 112.74 647.38 C 123.46 646.11 131.21 637.65 132.40 627.50 C 133.00 618.19 128.83 609.73 119.89 607.19 C 112.74 605.08 106.18 606.35 103.20 610.58 Z" fill="none" stroke="#9a9a9a" stroke-width="1.6" filter="url(#b06)"/>
</g>
<clipPath id="cp1"><path d="M 197.85 613.00 C 193.87 608.42 185.92 608.00 179.29 609.67 C 168.68 613.00 164.70 621.34 166.03 629.68 C 167.35 639.69 175.31 648.03 187.24 649.28 C 192.55 649.70 195.86 648.03 197.85 644.70 C 199.84 648.03 203.15 649.70 208.46 649.28 C 220.39 648.03 229.01 639.69 230.34 629.68 C 231.00 620.51 226.36 612.17 216.41 609.67 C 208.46 607.58 201.16 608.83 197.85 613.00 Z"/></clipPath>
<path d="M 197.85 613.00 C 193.87 608.42 185.92 608.00 179.29 609.67 C 168.68 613.00 164.70 621.34 166.03 629.68 C 167.35 639.69 175.31 648.03 187.24 649.28 C 192.55 649.70 195.86 648.03 197.85 644.70 C 199.84 648.03 203.15 649.70 208.46 649.28 C 220.39 648.03 229.01 639.69 230.34 629.68 C 231.00 620.51 226.36 612.17 216.41 609.67 C 208.46 607.58 201.16 608.83 197.85 613.00 Z" fill="none" stroke="#161616" stroke-width="2" filter="url(#b06)"/>
<g clip-path="url(#cp1)">
<path d="M 197.85 613.00 C 193.87 608.42 185.92 608.00 179.29 609.67 C 168.68 613.00 164.70 621.34 166.03 629.68 C 167.35 639.69 175.31 648.03 187.24 649.28 C 192.55 649.70 195.86 648.03 197.85 644.70 C 199.84 648.03 203.15 649.70 208.46 649.28 C 220.39 648.03 229.01 639.69 230.34 629.68 C 231.00 620.51 226.36 612.17 216.41 609.67 C 208.46 607.58 201.16 608.83 197.85 613.00 Z" fill="#4b4b4b"/>
<ellipse cx="216.41" cy="629.68" rx="17.24" ry="20.02" fill="#767676" filter="url(#b2)"/>
<ellipse cx="209.12" cy="627.60" rx="2.32" ry="3.34" fill="#383838" filter="url(#b1)"/>
<ellipse cx="205.81" cy="624.68" rx="3.32" ry="4.17" fill="#454545" filter="url(#b1)"/>
<ellipse cx="221.06" cy="641.36" rx="6.63" ry="5.00" fill="#959595" filter="url(#b2)"/>
<ellipse cx="184.59" cy="630.94" rx="11.93" ry="12.51" fill="#424242" filter="url(#b2)"/>
<path d="M 197.85 613.00 C 193.87 608.42 185.92 608.00 179.29 609.67 C 168.68 613.00 164.70 621.34 166.03 629.68 C 167.35 639.69 175.31 648.03 187.24 649.28 C 192.55 649.70 195.86 648.03 197.85 644.70 C 199.84 648.03 203.15 649.70 208.46 649.28 C 220.39 648.03 229.01 639.69 230.34 629.68 C 231.00 620.51 226.36 612.17 216.41 609.67 C 208.46 607.58 201.16 608.83 197.85 613.00 Z" fill="none" stroke="#5a5a5a" stroke-width="1.6" filter="url(#b06)"/>
</g>
<clipPath id="cp2"><path d="M 289.30 614.54 C 285.17 609.46 276.92 609.00 270.04 610.85 C 259.03 614.54 254.90 623.78 256.28 633.02 C 257.65 644.11 265.91 653.35 278.29 654.74 C 283.80 655.20 287.24 653.35 289.30 649.66 C 291.36 653.35 294.80 655.20 300.31 654.74 C 312.69 653.35 321.64 644.11 323.01 633.02 C 323.70 622.86 318.88 613.62 308.56 610.85 C 300.31 608.54 292.74 609.92 289.30 614.54 Z"/></clipPath>
<path d="M 289.30 614.54 C 285.17 609.46 276.92 609.00 270.04 610.85 C 259.03 614.54 254.90 623.78 256.28 633.02 C 257.65 644.11 265.91 653.35 278.29 654.74 C 283.80 655.20 287.24 653.35 289.30 649.66 C 291.36 653.35 294.80 655.20 300.31 654.74 C 312.69 653.35 321.64 644.11 323.01 633.02 C 323.70 622.86 318.88 613.62 308.56 610.85 C 300.31 608.54 292.74 609.92 289.30 614.54 Z" fill="none" stroke="#161616" stroke-width="2" filter="url(#b06)"/>
<g clip-path="url(#cp2)">
<path d="M 289.30 614.54 C 285.17 609.46 276.92 609.00 270.04 610.85 C 259.03 614.54 254.90 623.78 256.28 633.02 C 257.65 644.11 265.91 653.35 278.29 654.74 C 283.80 655.20 287.24 653.35 289.30 649.66 C 291.36 653.35 294.80 655.20 300.31 654.74 C 312.69 653.35 321.64 644.11 323.01 633.02 C 323.70 622.86 318.88 613.62 308.56 610.85 C 300.31 608.54 292.74 609.92 289.30 614.54 Z" fill="#363636"/>
<ellipse cx="306.50" cy="619.16" rx="11.01" ry="9.24" fill="#505050" filter="url(#b3)"/>
<ellipse cx="292.05" cy="626.56" rx="1.72" ry="1.85" fill="#a0a0a0" filter="url(#b06)"/>
<ellipse cx="303.06" cy="645.96" rx="9.63" ry="6.47" fill="#444" filter="url(#b3)"/>
<path d="M 289.30 614.54 C 285.17 609.46 276.92 609.00 270.04 610.85 C 259.03 614.54 254.90 623.78 256.28 633.02 C 257.65 644.11 265.91 653.35 278.29 654.74 C 283.80 655.20 287.24 653.35 289.30 649.66 C 291.36 653.35 294.80 655.20 300.31 654.74 C 312.69 653.35 321.64 644.11 323.01 633.02 C 323.70 622.86 318.88 613.62 308.56 610.85 C 300.31 608.54 292.74 609.92 289.30 614.54 Z" fill="none" stroke="#3c3c3c" stroke-width="1.6" filter="url(#b06)"/>
</g>
<clipPath id="cp3"><path d="M 102.30 660.68 C 95.20 657.00 82.42 657.00 75.32 661.60 C 68.22 666.20 66.80 675.40 67.51 682.30 C 68.93 693.80 79.58 702.08 93.78 702.08 C 98.04 702.08 100.88 700.24 102.30 698.40 C 104.43 700.70 107.98 703.00 113.66 702.54 C 127.86 701.16 137.80 692.88 137.09 680.92 C 136.38 670.80 130.70 660.68 119.34 658.38 C 110.82 657.00 105.85 657.92 102.30 660.68 Z"/></clipPath>
<path d="M 102.30 660.68 C 95.20 657.00 82.42 657.00 75.32 661.60 C 68.22 666.20 66.80 675.40 67.51 682.30 C 68.93 693.80 79.58 702.08 93.78 702.08 C 98.04 702.08 100.88 700.24 102.30 698.40 C 104.43 700.70 107.98 703.00 113.66 702.54 C 127.86 701.16 137.80 692.88 137.09 680.92 C 136.38 670.80 130.70 660.68 119.34 658.38 C 110.82 657.00 105.85 657.92 102.30 660.68 Z" fill="none" stroke="#161616" stroke-width="2" filter="url(#b06)"/>
<g clip-path="url(#cp3)">
<path d="M 102.30 660.68 C 95.20 657.00 82.42 657.00 75.32 661.60 C 68.22 666.20 66.80 675.40 67.51 682.30 C 68.93 693.80 79.58 702.08 93.78 702.08 C 98.04 702.08 100.88 700.24 102.30 698.40 C 104.43 700.70 107.98 703.00 113.66 702.54 C 127.86 701.16 137.80 692.88 137.09 680.92 C 136.38 670.80 130.70 660.68 119.34 658.38 C 110.82 657.00 105.85 657.92 102.30 660.68 Z" fill="#474747"/>
<ellipse cx="120.76" cy="682.30" rx="19.17" ry="20.70" fill="#9c9c9c" filter="url(#b2)"/>
<ellipse cx="84.55" cy="684.60" rx="10.65" ry="11.50" fill="#383838" filter="url(#b2)"/>
<ellipse cx="105.85" cy="662.52" rx="17.75" ry="4.60" fill="#7a7a7a" filter="url(#b2)"/>
<path d="M 73.90 673.56 C 84.55 667.12 95.20 668.04 100.88 675.40 C 107.98 668.96 120.05 667.12 130.70 673.56" fill="none" stroke="#8a8a8a" stroke-width="1.6" filter="url(#b06)"/>
<path d="M 102.30 660.68 C 95.20 657.00 82.42 657.00 75.32 661.60 C 68.22 666.20 66.80 675.40 67.51 682.30 C 68.93 693.80 79.58 702.08 93.78 702.08 C 98.04 702.08 100.88 700.24 102.30 698.40 C 104.43 700.70 107.98 703.00 113.66 702.54 C 127.86 701.16 137.80 692.88 137.09 680.92 C 136.38 670.80 130.70 660.68 119.34 658.38 C 110.82 657.00 105.85 657.92 102.30 660.68 Z" fill="none" stroke="#666" stroke-width="1.6" filter="url(#b06)"/>
</g>
<clipPath id="cp4"><path d="M 195.10 666.42 C 187.92 662.60 175.00 662.60 167.82 667.38 C 160.64 672.16 159.20 681.72 159.92 688.89 C 161.35 700.84 172.12 709.44 186.48 709.44 C 190.79 709.44 193.66 707.53 195.10 705.62 C 197.25 708.01 200.84 710.40 206.59 709.92 C 220.95 708.49 231.00 699.88 230.28 687.46 C 229.56 676.94 223.82 666.42 212.33 664.03 C 203.72 662.60 198.69 663.56 195.10 666.42 Z"/></clipPath>
<path d="M 195.10 666.42 C 187.92 662.60 175.00 662.60 167.82 667.38 C 160.64 672.16 159.20 681.72 159.92 688.89 C 161.35 700.84 172.12 709.44 186.48 709.44 C 190.79 709.44 193.66 707.53 195.10 705.62 C 197.25 708.01 200.84 710.40 206.59 709.92 C 220.95 708.49 231.00 699.88 230.28 687.46 C 229.56 676.94 223.82 666.42 212.33 664.03 C 203.72 662.60 198.69 663.56 195.10 666.42 Z" fill="none" stroke="#161616" stroke-width="2" filter="url(#b06)"/>
<g clip-path="url(#cp4)">
<path d="M 195.10 666.42 C 187.92 662.60 175.00 662.60 167.82 667.38 C 160.64 672.16 159.20 681.72 159.92 688.89 C 161.35 700.84 172.12 709.44 186.48 709.44 C 190.79 709.44 193.66 707.53 195.10 705.62 C 197.25 708.01 200.84 710.40 206.59 709.92 C 220.95 708.49 231.00 699.88 230.28 687.46 C 229.56 676.94 223.82 666.42 212.33 664.03 C 203.72 662.60 198.69 663.56 195.10 666.42 Z" fill="#464646"/>
<ellipse cx="210.90" cy="692.24" rx="17.95" ry="17.21" fill="#8e8e8e" filter="url(#b3)"/>
<ellipse cx="223.82" cy="676.94" rx="7.18" ry="9.56" fill="#6a6a6a" filter="url(#b2)"/>
<path d="M 166.38 679.81 C 177.15 673.12 187.92 674.07 193.66 681.72 C 200.84 675.03 213.05 673.12 223.82 679.81" fill="none" stroke="#5e5e5e" stroke-width="1.6" filter="url(#b06)"/>
<path d="M 195.10 666.42 C 187.92 662.60 175.00 662.60 167.82 667.38 C 160.64 672.16 159.20 681.72 159.92 688.89 C 161.35 700.84 172.12 709.44 186.48 709.44 C 190.79 709.44 193.66 707.53 195.10 705.62 C 197.25 708.01 200.84 710.40 206.59 709.92 C 220.95 708.49 231.00 699.88 230.28 687.46 C 229.56 676.94 223.82 666.42 212.33 664.03 C 203.72 662.60 198.69 663.56 195.10 666.42 Z" fill="none" stroke="#555" stroke-width="1.6" filter="url(#b06)"/>
</g>
<clipPath id="cp5"><path d="M 287.75 667.07 C 280.20 663.30 266.61 663.30 259.06 668.01 C 251.51 672.72 250.00 682.14 250.75 689.20 C 252.26 700.98 263.59 709.46 278.69 709.46 C 283.22 709.46 286.24 707.57 287.75 705.69 C 290.01 708.04 293.79 710.40 299.83 709.93 C 314.93 708.52 325.50 700.04 324.75 687.79 C 323.99 677.43 317.95 667.07 305.87 664.71 C 296.81 663.30 291.52 664.24 287.75 667.07 Z"/></clipPath>
<path d="M 287.75 667.07 C 280.20 663.30 266.61 663.30 259.06 668.01 C 251.51 672.72 250.00 682.14 250.75 689.20 C 252.26 700.98 263.59 709.46 278.69 709.46 C 283.22 709.46 286.24 707.57 287.75 705.69 C 290.01 708.04 293.79 710.40 299.83 709.93 C 314.93 708.52 325.50 700.04 324.75 687.79 C 323.99 677.43 317.95 667.07 305.87 664.71 C 296.81 663.30 291.52 664.24 287.75 667.07 Z" fill="none" stroke="#161616" stroke-width="2" filter="url(#b06)"/>
<g clip-path="url(#cp5)">
<path d="M 287.75 667.07 C 280.20 663.30 266.61 663.30 259.06 668.01 C 251.51 672.72 250.00 682.14 250.75 689.20 C 252.26 700.98 263.59 709.46 278.69 709.46 C 283.22 709.46 286.24 707.57 287.75 705.69 C 290.01 708.04 293.79 710.40 299.83 709.93 C 314.93 708.52 325.50 700.04 324.75 687.79 C 323.99 677.43 317.95 667.07 305.87 664.71 C 296.81 663.30 291.52 664.24 287.75 667.07 Z" fill="#373737"/>
<ellipse cx="304.36" cy="671.78" rx="13.59" ry="9.42" fill="#555" filter="url(#b3)"/>
<ellipse cx="303.98" cy="692.50" rx="5.29" ry="4.71" fill="#767676" filter="url(#b2)"/>
<path d="M 257.55 680.26 C 268.88 673.66 280.20 674.60 286.24 682.14 C 293.79 675.55 306.62 673.66 317.95 680.26" fill="none" stroke="#4a4a4a" stroke-width="1.6" filter="url(#b06)"/>
<path d="M 287.75 667.07 C 280.20 663.30 266.61 663.30 259.06 668.01 C 251.51 672.72 250.00 682.14 250.75 689.20 C 252.26 700.98 263.59 709.46 278.69 709.46 C 283.22 709.46 286.24 707.57 287.75 705.69 C 290.01 708.04 293.79 710.40 299.83 709.93 C 314.93 708.52 325.50 700.04 324.75 687.79 C 323.99 677.43 317.95 667.07 305.87 664.71 C 296.81 663.30 291.52 664.24 287.75 667.07 Z" fill="none" stroke="#3c3c3c" stroke-width="1.6" filter="url(#b06)"/>
</g>
<clipPath id="cp6"><path d="M 103.75 718.31 C 96.20 714.19 79.59 715.22 72.04 721.91 C 66.00 728.09 65.25 740.45 66.75 750.75 C 67.51 758.48 70.53 763.11 78.08 763.62 C 85.63 764.14 93.18 762.60 97.71 762.08 C 100.73 762.08 102.24 766.20 103.75 766.20 C 105.26 766.20 106.77 762.08 109.79 762.08 C 114.32 762.60 121.87 764.14 129.42 763.62 C 136.97 763.11 139.99 758.48 140.75 750.75 C 142.25 740.45 141.50 728.09 135.46 721.91 C 127.91 715.22 111.30 714.19 103.75 718.31 Z"/></clipPath>
<path d="M 103.75 718.31 C 96.20 714.19 79.59 715.22 72.04 721.91 C 66.00 728.09 65.25 740.45 66.75 750.75 C 67.51 758.48 70.53 763.11 78.08 763.62 C 85.63 764.14 93.18 762.60 97.71 762.08 C 100.73 762.08 102.24 766.20 103.75 766.20 C 105.26 766.20 106.77 762.08 109.79 762.08 C 114.32 762.60 121.87 764.14 129.42 763.62 C 136.97 763.11 139.99 758.48 140.75 750.75 C 142.25 740.45 141.50 728.09 135.46 721.91 C 127.91 715.22 111.30 714.19 103.75 718.31 Z" fill="none" stroke="#161616" stroke-width="2" filter="url(#b06)"/>
<g clip-path="url(#cp6)">
<path d="M 103.75 718.31 C 96.20 714.19 79.59 715.22 72.04 721.91 C 66.00 728.09 65.25 740.45 66.75 750.75 C 67.51 758.48 70.53 763.11 78.08 763.62 C 85.63 764.14 93.18 762.60 97.71 762.08 C 100.73 762.08 102.24 766.20 103.75 766.20 C 105.26 766.20 106.77 762.08 109.79 762.08 C 114.32 762.60 121.87 764.14 129.42 763.62 C 136.97 763.11 139.99 758.48 140.75 750.75 C 142.25 740.45 141.50 728.09 135.46 721.91 C 127.91 715.22 111.30 714.19 103.75 718.31 Z" fill="#313131"/>
<ellipse cx="126.40" cy="740.45" rx="18.88" ry="25.75" fill="#6c6c6c" filter="url(#b3)"/>
<ellipse cx="99.97" cy="720.88" rx="6.04" ry="5.15" fill="#222" filter="url(#b1)"/>
<ellipse cx="92.42" cy="745.60" rx="11.32" ry="10.30" fill="#3a3a3a" filter="url(#b3)"/>
<path d="M 75.06 737.88 C 84.88 726.03 97.71 726.03 103.75 730.15 C 109.79 726.03 122.62 726.03 132.44 737.88" fill="none" stroke="#6a6a6a" stroke-width="1.6" filter="url(#b06)"/>
<path d="M 103.75 718.31 C 96.20 714.19 79.59 715.22 72.04 721.91 C 66.00 728.09 65.25 740.45 66.75 750.75 C 67.51 758.48 70.53 763.11 78.08 763.62 C 85.63 764.14 93.18 762.60 97.71 762.08 C 100.73 762.08 102.24 766.20 103.75 766.20 C 105.26 766.20 106.77 762.08 109.79 762.08 C 114.32 762.60 121.87 764.14 129.42 763.62 C 136.97 763.11 139.99 758.48 140.75 750.75 C 142.25 740.45 141.50 728.09 135.46 721.91 C 127.91 715.22 111.30 714.19 103.75 718.31 Z" fill="none" stroke="#3e3e3e" stroke-width="1.6" filter="url(#b06)"/>
</g>
<clipPath id="cp7"><path d="M 197.00 725.61 C 189.20 721.48 172.04 722.52 164.24 729.22 C 158.00 735.42 157.22 747.80 158.78 758.12 C 159.56 765.86 162.68 770.50 170.48 771.02 C 178.28 771.54 186.08 769.99 190.76 769.47 C 193.88 769.47 195.44 773.60 197.00 773.60 C 198.56 773.60 200.12 769.47 203.24 769.47 C 207.92 769.99 215.72 771.54 223.52 771.02 C 231.32 770.50 234.44 765.86 235.22 758.12 C 236.78 747.80 236.00 735.42 229.76 729.22 C 221.96 722.52 204.80 721.48 197.00 725.61 Z"/></clipPath>
<path d="M 197.00 725.61 C 189.20 721.48 172.04 722.52 164.24 729.22 C 158.00 735.42 157.22 747.80 158.78 758.12 C 159.56 765.86 162.68 770.50 170.48 771.02 C 178.28 771.54 186.08 769.99 190.76 769.47 C 193.88 769.47 195.44 773.60 197.00 773.60 C 198.56 773.60 200.12 769.47 203.24 769.47 C 207.92 769.99 215.72 771.54 223.52 771.02 C 231.32 770.50 234.44 765.86 235.22 758.12 C 236.78 747.80 236.00 735.42 229.76 729.22 C 221.96 722.52 204.80 721.48 197.00 725.61 Z" fill="none" stroke="#161616" stroke-width="2" filter="url(#b06)"/>
<g clip-path="url(#cp7)">
<path d="M 197.00 725.61 C 189.20 721.48 172.04 722.52 164.24 729.22 C 158.00 735.42 157.22 747.80 158.78 758.12 C 159.56 765.86 162.68 770.50 170.48 771.02 C 178.28 771.54 186.08 769.99 190.76 769.47 C 193.88 769.47 195.44 773.60 197.00 773.60 C 198.56 773.60 200.12 769.47 203.24 769.47 C 207.92 769.99 215.72 771.54 223.52 771.02 C 231.32 770.50 234.44 765.86 235.22 758.12 C 236.78 747.80 236.00 735.42 229.76 729.22 C 221.96 722.52 204.80 721.48 197.00 725.61 Z" fill="#4a4a4a"/>
<ellipse cx="218.06" cy="750.38" rx="19.50" ry="21.67" fill="#8a8a8a" filter="url(#b3)"/>
<ellipse cx="190.76" cy="737.48" rx="5.46" ry="6.19" fill="#3a3a3a" filter="url(#b2)"/>
<ellipse cx="173.60" cy="752.96" rx="9.36" ry="12.90" fill="#535353" filter="url(#b3)"/>
<path d="M 167.36 745.22 C 177.50 733.35 190.76 733.35 197.00 737.48 C 203.24 733.35 216.50 733.35 226.64 745.22" fill="none" stroke="#5e5e5e" stroke-width="1.6" filter="url(#b06)"/>
<path d="M 197.00 725.61 C 189.20 721.48 172.04 722.52 164.24 729.22 C 158.00 735.42 157.22 747.80 158.78 758.12 C 159.56 765.86 162.68 770.50 170.48 771.02 C 178.28 771.54 186.08 769.99 190.76 769.47 C 193.88 769.47 195.44 773.60 197.00 773.60 C 198.56 773.60 200.12 769.47 203.24 769.47 C 207.92 769.99 215.72 771.54 223.52 771.02 C 231.32 770.50 234.44 765.86 235.22 758.12 C 236.78 747.80 236.00 735.42 229.76 729.22 C 221.96 722.52 204.80 721.48 197.00 725.61 Z" fill="none" stroke="#555" stroke-width="1.6" filter="url(#b06)"/>
</g>
<clipPath id="cp8"><path d="M 287.40 723.81 C 279.56 719.68 262.31 720.72 254.47 727.42 C 248.20 733.62 247.42 746.00 248.98 756.32 C 249.77 764.06 252.90 768.70 260.74 769.22 C 268.58 769.74 276.42 768.19 281.13 767.67 C 284.26 767.67 285.83 771.80 287.40 771.80 C 288.97 771.80 290.54 767.67 293.67 767.67 C 298.38 768.19 306.22 769.74 314.06 769.22 C 321.90 768.70 325.03 764.06 325.82 756.32 C 327.38 746.00 326.60 733.62 320.33 727.42 C 312.49 720.72 295.24 719.68 287.40 723.81 Z"/></clipPath>
<path d="M 287.40 723.81 C 279.56 719.68 262.31 720.72 254.47 727.42 C 248.20 733.62 247.42 746.00 248.98 756.32 C 249.77 764.06 252.90 768.70 260.74 769.22 C 268.58 769.74 276.42 768.19 281.13 767.67 C 284.26 767.67 285.83 771.80 287.40 771.80 C 288.97 771.80 290.54 767.67 293.67 767.67 C 298.38 768.19 306.22 769.74 314.06 769.22 C 321.90 768.70 325.03 764.06 325.82 756.32 C 327.38 746.00 326.60 733.62 320.33 727.42 C 312.49 720.72 295.24 719.68 287.40 723.81 Z" fill="none" stroke="#161616" stroke-width="2" filter="url(#b06)"/>
<g clip-path="url(#cp8)">
<path d="M 287.40 723.81 C 279.56 719.68 262.31 720.72 254.47 727.42 C 248.20 733.62 247.42 746.00 248.98 756.32 C 249.77 764.06 252.90 768.70 260.74 769.22 C 268.58 769.74 276.42 768.19 281.13 767.67 C 284.26 767.67 285.83 771.80 287.40 771.80 C 288.97 771.80 290.54 767.67 293.67 767.67 C 298.38 768.19 306.22 769.74 314.06 769.22 C 321.90 768.70 325.03 764.06 325.82 756.32 C 327.38 746.00 326.60 733.62 320.33 727.42 C 312.49 720.72 295.24 719.68 287.40 723.81 Z" fill="#3a3a3a"/>
<ellipse cx="310.92" cy="730.52" rx="14.11" ry="11.35" fill="#7a7a7a" filter="url(#b3)"/>
<ellipse cx="317.19" cy="748.58" rx="7.84" ry="12.90" fill="#4e4e4e" filter="url(#b3)"/>
<ellipse cx="287.40" cy="751.16" rx="15.68" ry="12.90" fill="#363636" filter="url(#b2)"/>
<path d="M 257.61 743.42 C 267.80 731.55 281.13 731.55 287.40 735.68 C 293.67 731.55 307.00 731.55 317.19 743.42" fill="none" stroke="#4e4e4e" stroke-width="1.6" filter="url(#b06)"/>
<path d="M 287.40 723.81 C 279.56 719.68 262.31 720.72 254.47 727.42 C 248.20 733.62 247.42 746.00 248.98 756.32 C 249.77 764.06 252.90 768.70 260.74 769.22 C 268.58 769.74 276.42 768.19 281.13 767.67 C 284.26 767.67 285.83 771.80 287.40 771.80 C 288.97 771.80 290.54 767.67 293.67 767.67 C 298.38 768.19 306.22 769.74 314.06 769.22 C 321.90 768.70 325.03 764.06 325.82 756.32 C 327.38 746.00 326.60 733.62 320.33 727.42 C 312.49 720.72 295.24 719.68 287.40 723.81 Z" fill="none" stroke="#444" stroke-width="1.6" filter="url(#b06)"/>
</g>
<clipPath id="cp9"><path d="M 103.40 778.81 C 92.42 774.95 75.18 777.71 68.90 789.30 C 64.98 796.48 64.20 803.10 66.55 808.62 C 68.12 810.83 66.55 813.04 67.34 816.35 C 68.12 822.97 70.47 828.49 78.31 828.49 C 84.58 828.49 86.15 824.08 89.29 822.97 C 93.99 821.87 95.56 829.04 103.40 829.04 C 111.24 829.04 112.81 821.87 117.51 822.97 C 120.65 824.08 122.22 828.49 128.49 828.49 C 136.33 828.49 138.68 822.97 139.46 816.35 C 140.25 813.04 138.68 810.83 140.25 808.62 C 142.60 803.10 141.82 796.48 137.90 789.30 C 131.62 777.71 114.38 774.95 103.40 778.81 Z"/></clipPath>
<path d="M 103.40 778.81 C 92.42 774.95 75.18 777.71 68.90 789.30 C 64.98 796.48 64.20 803.10 66.55 808.62 C 68.12 810.83 66.55 813.04 67.34 816.35 C 68.12 822.97 70.47 828.49 78.31 828.49 C 84.58 828.49 86.15 824.08 89.29 822.97 C 93.99 821.87 95.56 829.04 103.40 829.04 C 111.24 829.04 112.81 821.87 117.51 822.97 C 120.65 824.08 122.22 828.49 128.49 828.49 C 136.33 828.49 138.68 822.97 139.46 816.35 C 140.25 813.04 138.68 810.83 140.25 808.62 C 142.60 803.10 141.82 796.48 137.90 789.30 C 131.62 777.71 114.38 774.95 103.40 778.81 Z" fill="none" stroke="#161616" stroke-width="2" filter="url(#b06)"/>
<g clip-path="url(#cp9)">
<path d="M 103.40 778.81 C 92.42 774.95 75.18 777.71 68.90 789.30 C 64.98 796.48 64.20 803.10 66.55 808.62 C 68.12 810.83 66.55 813.04 67.34 816.35 C 68.12 822.97 70.47 828.49 78.31 828.49 C 84.58 828.49 86.15 824.08 89.29 822.97 C 93.99 821.87 95.56 829.04 103.40 829.04 C 111.24 829.04 112.81 821.87 117.51 822.97 C 120.65 824.08 122.22 828.49 128.49 828.49 C 136.33 828.49 138.68 822.97 139.46 816.35 C 140.25 813.04 138.68 810.83 140.25 808.62 C 142.60 803.10 141.82 796.48 137.90 789.30 C 131.62 777.71 114.38 774.95 103.40 778.81 Z" fill="#3e3e3e"/>
<ellipse cx="99.48" cy="805.86" rx="18.82" ry="12.14" fill="#343434" filter="url(#b2)"/>
<path d="M 107.32 782.12 C 119.08 781.02 130.84 787.64 136.33 797.58 C 138.68 803.10 138.68 807.52 137.11 811.93" fill="none" stroke="#646464" stroke-width="14.35" stroke-linecap="round" filter="url(#b3)"/>
<path d="M 78.31 809.72 C 79.88 792.06 95.56 789.30 103.40 793.72 C 111.24 789.30 126.92 792.06 128.49 809.72" fill="none" stroke="#707070" stroke-width="1.6" filter="url(#b06)"/>
<path d="M 103.40 778.81 C 92.42 774.95 75.18 777.71 68.90 789.30 C 64.98 796.48 64.20 803.10 66.55 808.62 C 68.12 810.83 66.55 813.04 67.34 816.35 C 68.12 822.97 70.47 828.49 78.31 828.49 C 84.58 828.49 86.15 824.08 89.29 822.97 C 93.99 821.87 95.56 829.04 103.40 829.04 C 111.24 829.04 112.81 821.87 117.51 822.97 C 120.65 824.08 122.22 828.49 128.49 828.49 C 136.33 828.49 138.68 822.97 139.46 816.35 C 140.25 813.04 138.68 810.83 140.25 808.62 C 142.60 803.10 141.82 796.48 137.90 789.30 C 131.62 777.71 114.38 774.95 103.40 778.81 Z" fill="none" stroke="#6a6a6a" stroke-width="1.6" filter="url(#b06)"/>
</g>
<clipPath id="cp10"><path d="M 198.15 783.66 C 186.91 780.47 169.24 783.13 162.82 794.33 C 158.80 801.25 158.00 810.31 159.61 818.31 C 160.41 823.64 162.01 828.97 167.64 830.57 C 174.06 832.17 178.88 830.04 182.09 828.97 C 186.91 828.97 190.12 832.70 198.15 832.70 C 206.18 832.70 209.39 828.97 214.21 828.97 C 217.42 830.04 222.24 832.70 228.66 831.10 C 234.29 828.97 235.89 823.64 236.69 818.31 C 238.30 810.31 237.50 801.25 233.48 794.33 C 227.06 783.13 209.39 780.47 198.15 783.66 Z"/></clipPath>
<path d="M 198.15 783.66 C 186.91 780.47 169.24 783.13 162.82 794.33 C 158.80 801.25 158.00 810.31 159.61 818.31 C 160.41 823.64 162.01 828.97 167.64 830.57 C 174.06 832.17 178.88 830.04 182.09 828.97 C 186.91 828.97 190.12 832.70 198.15 832.70 C 206.18 832.70 209.39 828.97 214.21 828.97 C 217.42 830.04 222.24 832.70 228.66 831.10 C 234.29 828.97 235.89 823.64 236.69 818.31 C 238.30 810.31 237.50 801.25 233.48 794.33 C 227.06 783.13 209.39 780.47 198.15 783.66 Z" fill="none" stroke="#161616" stroke-width="2" filter="url(#b06)"/>
<g clip-path="url(#cp10)">
<path d="M 198.15 783.66 C 186.91 780.47 169.24 783.13 162.82 794.33 C 158.80 801.25 158.00 810.31 159.61 818.31 C 160.41 823.64 162.01 828.97 167.64 830.57 C 174.06 832.17 178.88 830.04 182.09 828.97 C 186.91 828.97 190.12 832.70 198.15 832.70 C 206.18 832.70 209.39 828.97 214.21 828.97 C 217.42 830.04 222.24 832.70 228.66 831.10 C 234.29 828.97 235.89 823.64 236.69 818.31 C 238.30 810.31 237.50 801.25 233.48 794.33 C 227.06 783.13 209.39 780.47 198.15 783.66 Z" fill="#4a4a4a"/>
<ellipse cx="196.54" cy="812.98" rx="20.88" ry="13.32" fill="#414141" filter="url(#b3)"/>
<path d="M 202.17 787.40 C 214.21 786.33 226.25 792.73 231.88 802.32 C 234.29 807.65 234.29 811.91 232.68 816.18" fill="none" stroke="#8a8a8a" stroke-width="13.86" stroke-linecap="round" filter="url(#b3)"/>
<path d="M 172.45 814.05 C 174.06 796.99 190.12 794.33 198.15 798.59 C 206.18 794.33 222.24 796.99 223.85 814.05" fill="none" stroke="#3a3a3a" stroke-width="1.6" filter="url(#b06)"/>
<path d="M 198.15 783.66 C 186.91 780.47 169.24 783.13 162.82 794.33 C 158.80 801.25 158.00 810.31 159.61 818.31 C 160.41 823.64 162.01 828.97 167.64 830.57 C 174.06 832.17 178.88 830.04 182.09 828.97 C 186.91 828.97 190.12 832.70 198.15 832.70 C 206.18 832.70 209.39 828.97 214.21 828.97 C 217.42 830.04 222.24 832.70 228.66 831.10 C 234.29 828.97 235.89 823.64 236.69 818.31 C 238.30 810.31 237.50 801.25 233.48 794.33 C 227.06 783.13 209.39 780.47 198.15 783.66 Z" fill="none" stroke="#5a5a5a" stroke-width="1.6" filter="url(#b06)"/>
</g>
<clipPath id="cp11"><path d="M 286.55 782.67 C 275.11 779.71 257.14 782.18 250.60 792.55 C 246.52 798.97 245.70 807.37 247.33 814.78 C 248.15 819.72 249.78 824.66 255.50 826.14 C 262.04 827.62 266.94 825.65 270.21 824.66 C 275.11 824.66 278.38 828.12 286.55 828.12 C 294.72 828.12 297.99 824.66 302.89 824.66 C 306.16 825.65 311.06 828.12 317.60 826.64 C 323.31 824.66 324.95 819.72 325.77 814.78 C 327.40 807.37 326.58 798.97 322.50 792.55 C 315.96 782.18 297.99 779.71 286.55 782.67 Z"/></clipPath>
<path d="M 286.55 782.67 C 275.11 779.71 257.14 782.18 250.60 792.55 C 246.52 798.97 245.70 807.37 247.33 814.78 C 248.15 819.72 249.78 824.66 255.50 826.14 C 262.04 827.62 266.94 825.65 270.21 824.66 C 275.11 824.66 278.38 828.12 286.55 828.12 C 294.72 828.12 297.99 824.66 302.89 824.66 C 306.16 825.65 311.06 828.12 317.60 826.64 C 323.31 824.66 324.95 819.72 325.77 814.78 C 327.40 807.37 326.58 798.97 322.50 792.55 C 315.96 782.18 297.99 779.71 286.55 782.67 Z" fill="none" stroke="#161616" stroke-width="2" filter="url(#b06)"/>
<g clip-path="url(#cp11)">
<path d="M 286.55 782.67 C 275.11 779.71 257.14 782.18 250.60 792.55 C 246.52 798.97 245.70 807.37 247.33 814.78 C 248.15 819.72 249.78 824.66 255.50 826.14 C 262.04 827.62 266.94 825.65 270.21 824.66 C 275.11 824.66 278.38 828.12 286.55 828.12 C 294.72 828.12 297.99 824.66 302.89 824.66 C 306.16 825.65 311.06 828.12 317.60 826.64 C 323.31 824.66 324.95 819.72 325.77 814.78 C 327.40 807.37 326.58 798.97 322.50 792.55 C 315.96 782.18 297.99 779.71 286.55 782.67 Z" fill="#3c3c3c"/>
<ellipse cx="286.55" cy="809.84" rx="16.34" ry="12.35" fill="#363636" filter="url(#b3)"/>
<path d="M 288.18 787.12 C 296.35 784.15 311.06 786.13 317.60 795.02 C 320.86 799.96 321.68 804.90 320.86 808.85" fill="none" stroke="#b0b0b0" stroke-width="9.88" stroke-linecap="round" filter="url(#b2)"/>
<path d="M 260.41 810.83 C 262.04 795.02 278.38 792.55 286.55 796.50 C 294.72 792.55 311.06 795.02 312.69 810.83" fill="none" stroke="#4e4e4e" stroke-width="1.6" filter="url(#b06)"/>
<path d="M 286.55 782.67 C 275.11 779.71 257.14 782.18 250.60 792.55 C 246.52 798.97 245.70 807.37 247.33 814.78 C 248.15 819.72 249.78 824.66 255.50 826.14 C 262.04 827.62 266.94 825.65 270.21 824.66 C 275.11 824.66 278.38 828.12 286.55 828.12 C 294.72 828.12 297.99 824.66 302.89 824.66 C 306.16 825.65 311.06 828.12 317.60 826.64 C 323.31 824.66 324.95 819.72 325.77 814.78 C 327.40 807.37 326.58 798.97 322.50 792.55 C 315.96 782.18 297.99 779.71 286.55 782.67 Z" fill="none" stroke="#4a4a4a" stroke-width="1.6" filter="url(#b06)"/>
</g>
<clipPath id="cp12"><path d="M 102.85 841.86 C 91.52 838.00 75.34 840.21 68.06 850.14 C 62.40 857.87 61.59 871.12 64.02 881.06 C 65.64 888.78 73.73 891.54 81.82 890.44 C 86.67 889.89 89.91 892.65 94.76 893.20 C 99.61 893.20 101.23 890.99 102.85 890.99 C 104.47 890.99 106.09 893.20 110.94 893.20 C 115.79 892.65 119.03 889.89 123.88 890.44 C 131.97 891.54 140.06 888.78 141.68 881.06 C 144.11 871.12 143.30 857.87 137.64 850.14 C 130.36 840.21 114.18 838.00 102.85 841.86 Z"/></clipPath>
<path d="M 102.85 841.86 C 91.52 838.00 75.34 840.21 68.06 850.14 C 62.40 857.87 61.59 871.12 64.02 881.06 C 65.64 888.78 73.73 891.54 81.82 890.44 C 86.67 889.89 89.91 892.65 94.76 893.20 C 99.61 893.20 101.23 890.99 102.85 890.99 C 104.47 890.99 106.09 893.20 110.94 893.20 C 115.79 892.65 119.03 889.89 123.88 890.44 C 131.97 891.54 140.06 888.78 141.68 881.06 C 144.11 871.12 143.30 857.87 137.64 850.14 C 130.36 840.21 114.18 838.00 102.85 841.86 Z" fill="none" stroke="#161616" stroke-width="2" filter="url(#b06)"/>
<g clip-path="url(#cp12)">
<path d="M 102.85 841.86 C 91.52 838.00 75.34 840.21 68.06 850.14 C 62.40 857.87 61.59 871.12 64.02 881.06 C 65.64 888.78 73.73 891.54 81.82 890.44 C 86.67 889.89 89.91 892.65 94.76 893.20 C 99.61 893.20 101.23 890.99 102.85 890.99 C 104.47 890.99 106.09 893.20 110.94 893.20 C 115.79 892.65 119.03 889.89 123.88 890.44 C 131.97 891.54 140.06 888.78 141.68 881.06 C 144.11 871.12 143.30 857.87 137.64 850.14 C 130.36 840.21 114.18 838.00 102.85 841.86 Z" fill="#3b3b3b"/>
<ellipse cx="102.85" cy="871.12" rx="16.18" ry="13.80" fill="#333" filter="url(#b2)"/>
<path d="M 110.94 845.73 C 120.65 844.62 131.16 851.25 135.21 860.08 C 137.64 865.60 137.64 870.02 136.02 874.43" fill="none" stroke="#565656" stroke-width="13.25" stroke-linecap="round" filter="url(#b3)"/>
<path d="M 73.73 874.43 C 76.96 857.32 93.14 853.46 102.85 857.87 C 112.56 853.46 128.74 857.32 131.97 874.43" fill="none" stroke="#6a6a6a" stroke-width="1.6" filter="url(#b06)"/>
<path d="M 102.85 841.86 C 91.52 838.00 75.34 840.21 68.06 850.14 C 62.40 857.87 61.59 871.12 64.02 881.06 C 65.64 888.78 73.73 891.54 81.82 890.44 C 86.67 889.89 89.91 892.65 94.76 893.20 C 99.61 893.20 101.23 890.99 102.85 890.99 C 104.47 890.99 106.09 893.20 110.94 893.20 C 115.79 892.65 119.03 889.89 123.88 890.44 C 131.97 891.54 140.06 888.78 141.68 881.06 C 144.11 871.12 143.30 857.87 137.64 850.14 C 130.36 840.21 114.18 838.00 102.85 841.86 Z" fill="none" stroke="#6a6a6a" stroke-width="1.6" filter="url(#b06)"/>
</g>
<clipPath id="cp13"><path d="M 191.75 845.31 C 180.76 841.70 165.06 843.76 158.00 853.03 C 152.50 860.24 151.72 872.60 154.07 881.87 C 155.64 889.08 163.49 891.66 171.34 890.62 C 176.05 890.11 179.19 892.69 183.90 893.20 C 188.61 893.20 190.18 891.14 191.75 891.14 C 193.32 891.14 194.89 893.20 199.60 893.20 C 204.31 892.69 207.45 890.11 212.16 890.62 C 220.01 891.66 227.86 889.08 229.43 881.87 C 231.78 872.60 231.00 860.24 225.50 853.03 C 218.44 843.76 202.74 841.70 191.75 845.31 Z"/></clipPath>
<path d="M 191.75 845.31 C 180.76 841.70 165.06 843.76 158.00 853.03 C 152.50 860.24 151.72 872.60 154.07 881.87 C 155.64 889.08 163.49 891.66 171.34 890.62 C 176.05 890.11 179.19 892.69 183.90 893.20 C 188.61 893.20 190.18 891.14 191.75 891.14 C 193.32 891.14 194.89 893.20 199.60 893.20 C 204.31 892.69 207.45 890.11 212.16 890.62 C 220.01 891.66 227.86 889.08 229.43 881.87 C 231.78 872.60 231.00 860.24 225.50 853.03 C 218.44 843.76 202.74 841.70 191.75 845.31 Z" fill="none" stroke="#161616" stroke-width="2" filter="url(#b06)"/>
<g clip-path="url(#cp13)">
<path d="M 191.75 845.31 C 180.76 841.70 165.06 843.76 158.00 853.03 C 152.50 860.24 151.72 872.60 154.07 881.87 C 155.64 889.08 163.49 891.66 171.34 890.62 C 176.05 890.11 179.19 892.69 183.90 893.20 C 188.61 893.20 190.18 891.14 191.75 891.14 C 193.32 891.14 194.89 893.20 199.60 893.20 C 204.31 892.69 207.45 890.11 212.16 890.62 C 220.01 891.66 227.86 889.08 229.43 881.87 C 231.78 872.60 231.00 860.24 225.50 853.03 C 218.44 843.76 202.74 841.70 191.75 845.31 Z" fill="#474747"/>
<ellipse cx="191.75" cy="875.18" rx="17.27" ry="12.88" fill="#3e3e3e" filter="url(#b3)"/>
<path d="M 198.03 849.94 C 207.45 848.91 218.44 854.06 223.15 862.30 C 225.50 867.45 225.50 871.57 223.94 874.66" fill="none" stroke="#8e8e8e" stroke-width="14.42" stroke-linecap="round" filter="url(#b3)"/>
<path d="M 163.49 875.69 C 166.63 859.73 182.33 856.12 191.75 860.24 C 201.17 856.12 216.87 859.73 220.01 875.69" fill="none" stroke="#5a5a5a" stroke-width="1.6" filter="url(#b06)"/>
<path d="M 191.75 845.31 C 180.76 841.70 165.06 843.76 158.00 853.03 C 152.50 860.24 151.72 872.60 154.07 881.87 C 155.64 889.08 163.49 891.66 171.34 890.62 C 176.05 890.11 179.19 892.69 183.90 893.20 C 188.61 893.20 190.18 891.14 191.75 891.14 C 193.32 891.14 194.89 893.20 199.60 893.20 C 204.31 892.69 207.45 890.11 212.16 890.62 C 220.01 891.66 227.86 889.08 229.43 881.87 C 231.78 872.60 231.00 860.24 225.50 853.03 C 218.44 843.76 202.74 841.70 191.75 845.31 Z" fill="none" stroke="#555" stroke-width="1.6" filter="url(#b06)"/>
</g>
<clipPath id="cp14"><path d="M 286.50 845.68 C 275.27 841.70 257.63 843.69 251.21 852.63 C 246.40 859.59 245.60 869.53 248.81 876.49 C 251.21 881.46 257.63 881.46 264.04 880.47 C 267.25 881.46 267.25 887.42 272.06 889.91 C 278.48 891.90 294.52 891.90 300.94 889.91 C 305.75 888.42 307.35 884.44 310.56 884.44 C 318.58 885.44 324.19 882.45 325.00 876.49 C 327.40 867.54 326.60 858.60 320.99 851.64 C 313.77 843.69 297.73 841.70 286.50 845.68 Z"/></clipPath>
<path d="M 286.50 845.68 C 275.27 841.70 257.63 843.69 251.21 852.63 C 246.40 859.59 245.60 869.53 248.81 876.49 C 251.21 881.46 257.63 881.46 264.04 880.47 C 267.25 881.46 267.25 887.42 272.06 889.91 C 278.48 891.90 294.52 891.90 300.94 889.91 C 305.75 888.42 307.35 884.44 310.56 884.44 C 318.58 885.44 324.19 882.45 325.00 876.49 C 327.40 867.54 326.60 858.60 320.99 851.64 C 313.77 843.69 297.73 841.70 286.50 845.68 Z" fill="none" stroke="#161616" stroke-width="2" filter="url(#b06)"/>
<g clip-path="url(#cp14)">
<path d="M 286.50 845.68 C 275.27 841.70 257.63 843.69 251.21 852.63 C 246.40 859.59 245.60 869.53 248.81 876.49 C 251.21 881.46 257.63 881.46 264.04 880.47 C 267.25 881.46 267.25 887.42 272.06 889.91 C 278.48 891.90 294.52 891.90 300.94 889.91 C 305.75 888.42 307.35 884.44 310.56 884.44 C 318.58 885.44 324.19 882.45 325.00 876.49 C 327.40 867.54 326.60 858.60 320.99 851.64 C 313.77 843.69 297.73 841.70 286.50 845.68 Z" fill="#393939"/>
<ellipse cx="286.50" cy="876.49" rx="16.04" ry="12.42" fill="#3a3a3a" filter="url(#b3)"/>
<path d="M 292.92 848.66 C 302.54 847.66 313.77 852.63 318.58 860.59 C 320.99 865.56 320.99 869.53 319.38 873.51" fill="none" stroke="#b4b4b4" stroke-width="10.93" stroke-linecap="round" filter="url(#b2)"/>
<path d="M 257.63 874.50 C 260.84 859.10 276.88 855.62 286.50 859.59 C 296.12 855.62 312.16 859.10 315.37 874.50" fill="none" stroke="#4e4e4e" stroke-width="1.6" filter="url(#b06)"/>
<path d="M 286.50 845.68 C 275.27 841.70 257.63 843.69 251.21 852.63 C 246.40 859.59 245.60 869.53 248.81 876.49 C 251.21 881.46 257.63 881.46 264.04 880.47 C 267.25 881.46 267.25 887.42 272.06 889.91 C 278.48 891.90 294.52 891.90 300.94 889.91 C 305.75 888.42 307.35 884.44 310.56 884.44 C 318.58 885.44 324.19 882.45 325.00 876.49 C 327.40 867.54 326.60 858.60 320.99 851.64 C 313.77 843.69 297.73 841.70 286.50 845.68 Z" fill="none" stroke="#4a4a4a" stroke-width="1.6" filter="url(#b06)"/>
</g>
<text x="79.11" y="913.04" font-size="15.89" fill="#000" font-weight="normal" font-family="&quot;Liberation Serif&quot;, serif" textLength="44.79" lengthAdjust="spacingAndGlyphs" stroke="#000" stroke-width="0.35">Control</text>
<text x="163.50" y="913.03" font-size="16.65" fill="#000" font-weight="normal" font-family="&quot;Liberation Serif&quot;, serif" textLength="61.63" lengthAdjust="spacingAndGlyphs" stroke="#000" stroke-width="0.35">N-BMSCs</text>
<text x="257.60" y="913.03" font-size="16.65" fill="#000" font-weight="normal" font-family="&quot;Liberation Serif&quot;, serif" textLength="61.22" lengthAdjust="spacingAndGlyphs" stroke="#000" stroke-width="0.35">H-BMSCs</text>
<line x1="500.00" y1="664.30" x2="500.00" y2="826.40" stroke="#000" stroke-width="2.2" />
<line x1="500.00" y1="825.30" x2="737.60" y2="825.30" stroke="#000" stroke-width="2.3" />
<line x1="496.00" y1="825.30" x2="500.00" y2="825.30" stroke="#000" stroke-width="2.2" />
<text x="484.24" y="830.45" font-size="14.98" fill="#000" font-weight="bold" font-family="&quot;Liberation Sans&quot;, sans-serif" textLength="8.17" lengthAdjust="spacingAndGlyphs" stroke="#000" stroke-width="0.6">0</text>
<line x1="496.00" y1="772.04" x2="500.00" y2="772.04" stroke="#000" stroke-width="2.2" />
<text x="476.09" y="777.19" font-size="14.98" fill="#000" font-weight="bold" font-family="&quot;Liberation Sans&quot;, sans-serif" textLength="16.33" lengthAdjust="spacingAndGlyphs" stroke="#000" stroke-width="0.6">20</text>
<line x1="496.00" y1="718.78" x2="500.00" y2="718.78" stroke="#000" stroke-width="2.2" />
<text x="476.09" y="723.93" font-size="14.98" fill="#000" font-weight="bold" font-family="&quot;Liberation Sans&quot;, sans-serif" textLength="16.33" lengthAdjust="spacingAndGlyphs" stroke="#000" stroke-width="0.6">40</text>
<line x1="496.00" y1="665.52" x2="500.00" y2="665.52" stroke="#000" stroke-width="2.2" />
<text x="476.09" y="670.67" font-size="14.98" fill="#000" font-weight="bold" font-family="&quot;Liberation Sans&quot;, sans-serif" textLength="16.33" lengthAdjust="spacingAndGlyphs" stroke="#000" stroke-width="0.6">60</text>
<line x1="539.90" y1="703.20" x2="539.90" y2="684.90" stroke="#000" stroke-width="2.6" />
<line x1="526.65" y1="684.90" x2="553.15" y2="684.90" stroke="#000" stroke-width="2.6" />
<rect x="512.20" y="703.20" width="55.40" height="122.10" fill="#000" />
<line x1="539.90" y1="825.30" x2="539.90" y2="830.30" stroke="#000" stroke-width="2.3" />
<text x="513.11" y="847.16" font-size="14.15" fill="#000" font-weight="bold" font-family="&quot;Liberation Sans&quot;, sans-serif" textLength="52.83" lengthAdjust="spacingAndGlyphs" stroke="#000" stroke-width="0.6">Control</text>
<line x1="619.25" y1="731.80" x2="619.25" y2="714.40" stroke="#000" stroke-width="2.6" />
<line x1="605.75" y1="714.40" x2="632.75" y2="714.40" stroke="#000" stroke-width="2.6" />
<rect x="591.40" y="731.80" width="55.70" height="93.50" fill="#000" />
<line x1="619.25" y1="825.30" x2="619.25" y2="830.30" stroke="#000" stroke-width="2.3" />
<text x="584.29" y="847.35" font-size="14.98" fill="#000" font-weight="bold" font-family="&quot;Liberation Sans&quot;, sans-serif" textLength="68.02" lengthAdjust="spacingAndGlyphs" stroke="#000" stroke-width="0.6">N-BMSCs</text>
<line x1="699.05" y1="759.20" x2="699.05" y2="745.80" stroke="#000" stroke-width="2.6" />
<line x1="685.80" y1="745.80" x2="712.30" y2="745.80" stroke="#000" stroke-width="2.6" />
<rect x="671.20" y="759.20" width="55.70" height="66.10" fill="#000" />
<line x1="699.05" y1="825.30" x2="699.05" y2="830.30" stroke="#000" stroke-width="2.3" />
<text x="668.98" y="848.25" font-size="14.98" fill="#000" font-weight="bold" font-family="&quot;Liberation Sans&quot;, sans-serif" textLength="68.63" lengthAdjust="spacingAndGlyphs" stroke="#000" stroke-width="0.6">H-BMSCs</text>
<text transform="translate(461.66,812.39) rotate(-90)" x="0" y="0" font-size="17.05" font-weight="bold" font-family="&quot;Liberation Sans&quot;, sans-serif" textLength="139.40" lengthAdjust="spacingAndGlyphs" stroke="#000" stroke-width="0.6">Infarct volume (%)</text>
<line x1="539.60" y1="649.50" x2="712.30" y2="649.50" stroke="#000" stroke-width="2.6" />
<line x1="539.60" y1="674.20" x2="629.50" y2="674.20" stroke="#000" stroke-width="2.6" />
<line x1="620.30" y1="704.40" x2="709.60" y2="704.40" stroke="#000" stroke-width="2.6" />
<g fill="#000"><path d="M617.60,640.89L617.60,636.85M617.60,640.89L620.90,639.64M617.60,640.89L619.64,644.15M617.60,640.89L615.56,644.15M617.60,640.89L614.30,639.64" stroke="#000" stroke-width="1.95" fill="none"/><circle cx="617.60" cy="636.85" r="1.30"/><circle cx="620.90" cy="639.64" r="1.30"/><circle cx="619.64" cy="644.15" r="1.30"/><circle cx="615.56" cy="644.15" r="1.30"/><circle cx="614.30" cy="639.64" r="1.30"/></g>
<g fill="#000"><path d="M628.80,640.89L628.80,636.85M628.80,640.89L632.10,639.64M628.80,640.89L630.84,644.15M628.80,640.89L626.76,644.15M628.80,640.89L625.50,639.64" stroke="#000" stroke-width="1.95" fill="none"/><circle cx="628.80" cy="636.85" r="1.30"/><circle cx="632.10" cy="639.64" r="1.30"/><circle cx="630.84" cy="644.15" r="1.30"/><circle cx="626.76" cy="644.15" r="1.30"/><circle cx="625.50" cy="639.64" r="1.30"/></g>
<g fill="#000"><path d="M586.10,665.87L586.10,661.95M586.10,665.87L589.50,664.66M586.10,665.87L588.20,669.05M586.10,665.87L584.00,669.05M586.10,665.87L582.70,664.66" stroke="#000" stroke-width="1.95" fill="none"/><circle cx="586.10" cy="661.95" r="1.30"/><circle cx="589.50" cy="664.66" r="1.30"/><circle cx="588.20" cy="669.05" r="1.30"/><circle cx="584.00" cy="669.05" r="1.30"/><circle cx="582.70" cy="664.66" r="1.30"/></g>
<g fill="#000"><path d="M665.80,697.27L665.80,693.40M665.80,697.27L669.10,696.07M665.80,697.27L667.84,700.40M665.80,697.27L663.76,700.40M665.80,697.27L662.50,696.07" stroke="#000" stroke-width="1.95" fill="none"/><circle cx="665.80" cy="693.40" r="1.30"/><circle cx="669.10" cy="696.07" r="1.30"/><circle cx="667.84" cy="700.40" r="1.30"/><circle cx="663.76" cy="700.40" r="1.30"/><circle cx="662.50" cy="696.07" r="1.30"/></g>
<path d="M775.3,150.5 L776,145.5 L777.5,145" stroke="#b8b8b8" stroke-width="0.9" fill="none"/>
<path d="M783.5,158 C782.5,160 784,161 782.8,163.5 L782,165.5" stroke="#a0a0a0" stroke-width="1" fill="none"/>
</svg></body></html>
